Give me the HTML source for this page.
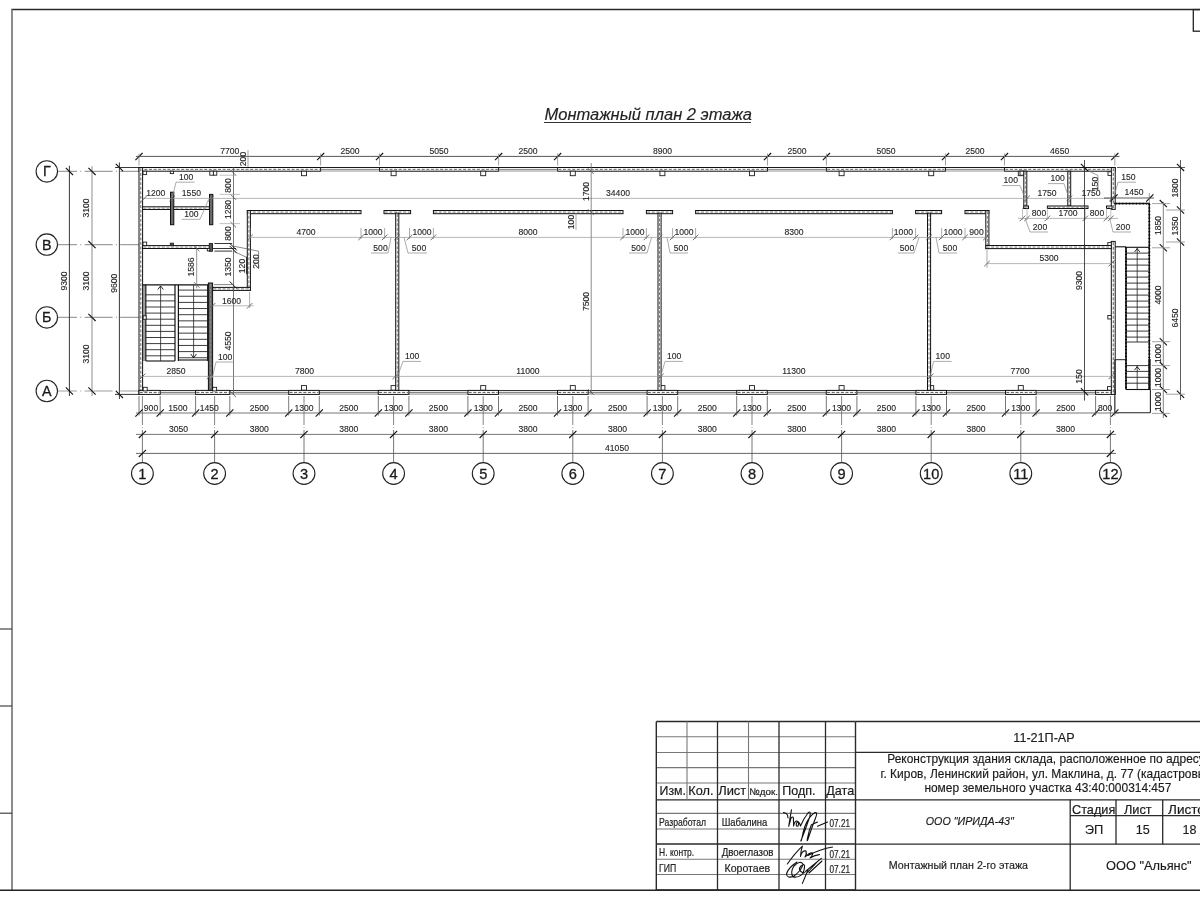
<!DOCTYPE html>
<html><head><meta charset="utf-8"><style>
html,body{margin:0;padding:0;background:#fff;width:1200px;height:900px;overflow:hidden}
svg{display:block;font-family:"Liberation Sans",sans-serif;will-change:transform}
</style></head><body>
<svg width="1200" height="900" viewBox="0 0 1200 900">
<defs>
<pattern id="hatch" width="6" height="4" patternUnits="userSpaceOnUse"><rect width="6" height="4" fill="#fff"/><rect x="0.5" y="1.4" width="3.6" height="1.2" fill="#b8b8b8"/></pattern>
<pattern id="hatchv" width="4" height="6" patternUnits="userSpaceOnUse"><rect width="4" height="6" fill="#fff"/><rect x="1.4" y="0.5" width="1.2" height="3.6" fill="#b8b8b8"/></pattern>
</defs>
<rect width="1200" height="900" fill="#fff"/>
<line x1="11.3" y1="9.6" x2="1201" y2="9.6" stroke="#2a2a2a" stroke-width="1.5" />
<line x1="12" y1="9" x2="12" y2="890" stroke="#666" stroke-width="1.5" />
<line x1="0" y1="890.2" x2="1201" y2="890.2" stroke="#222" stroke-width="1.4" />
<line x1="0" y1="629" x2="12" y2="629" stroke="#333" stroke-width="1.1" />
<line x1="0" y1="706" x2="12" y2="706" stroke="#333" stroke-width="1.1" />
<line x1="0" y1="813.2" x2="12" y2="813.2" stroke="#333" stroke-width="1.1" />
<rect x="1193.3" y="9.6" width="10" height="21.6" stroke="#222" stroke-width="1.3" fill="none" />
<text x="544.5" y="120" font-size="16.5" fill="#222" stroke="#222" stroke-width="0.15" text-anchor="start" font-style="italic">Монтажный план 2 этажа</text>
<line x1="544" y1="122.5" x2="751" y2="122.5" stroke="#333" stroke-width="1" />
<line x1="57.5" y1="171.4" x2="139" y2="171.4" stroke="#a0a0a0" stroke-width="1.1" stroke-dasharray="19.5 3.3 1 3.3 28 3.3 1 3.3 40"/>
<line x1="57.5" y1="244.6" x2="139" y2="244.6" stroke="#a0a0a0" stroke-width="1.1" stroke-dasharray="19.5 3.3 1 3.3 28 3.3 1 3.3 40"/>
<line x1="57.5" y1="317.4" x2="139" y2="317.4" stroke="#a0a0a0" stroke-width="1.1" stroke-dasharray="19.5 3.3 1 3.3 28 3.3 1 3.3 40"/>
<line x1="57.5" y1="391" x2="139" y2="391" stroke="#a0a0a0" stroke-width="1.1" stroke-dasharray="19.5 3.3 1 3.3 28 3.3 1 3.3 40"/>
<line x1="142.4" y1="396" x2="142.4" y2="425" stroke="#777" stroke-width="0.9" />
<line x1="142.4" y1="427" x2="142.4" y2="428.2" stroke="#999" stroke-width="0.9" />
<line x1="142.4" y1="430" x2="142.4" y2="462.6" stroke="#666" stroke-width="0.9" />
<line x1="214.6" y1="396" x2="214.6" y2="425" stroke="#777" stroke-width="0.9" />
<line x1="214.6" y1="427" x2="214.6" y2="428.2" stroke="#999" stroke-width="0.9" />
<line x1="214.6" y1="430" x2="214.6" y2="462.6" stroke="#666" stroke-width="0.9" />
<line x1="304" y1="396" x2="304" y2="425" stroke="#777" stroke-width="0.9" />
<line x1="304" y1="427" x2="304" y2="428.2" stroke="#999" stroke-width="0.9" />
<line x1="304" y1="430" x2="304" y2="462.6" stroke="#666" stroke-width="0.9" />
<line x1="393.6" y1="396" x2="393.6" y2="425" stroke="#777" stroke-width="0.9" />
<line x1="393.6" y1="427" x2="393.6" y2="428.2" stroke="#999" stroke-width="0.9" />
<line x1="393.6" y1="430" x2="393.6" y2="462.6" stroke="#666" stroke-width="0.9" />
<line x1="483.2" y1="396" x2="483.2" y2="425" stroke="#777" stroke-width="0.9" />
<line x1="483.2" y1="427" x2="483.2" y2="428.2" stroke="#999" stroke-width="0.9" />
<line x1="483.2" y1="430" x2="483.2" y2="462.6" stroke="#666" stroke-width="0.9" />
<line x1="572.8" y1="396" x2="572.8" y2="425" stroke="#777" stroke-width="0.9" />
<line x1="572.8" y1="427" x2="572.8" y2="428.2" stroke="#999" stroke-width="0.9" />
<line x1="572.8" y1="430" x2="572.8" y2="462.6" stroke="#666" stroke-width="0.9" />
<line x1="662.4" y1="396" x2="662.4" y2="425" stroke="#777" stroke-width="0.9" />
<line x1="662.4" y1="427" x2="662.4" y2="428.2" stroke="#999" stroke-width="0.9" />
<line x1="662.4" y1="430" x2="662.4" y2="462.6" stroke="#666" stroke-width="0.9" />
<line x1="752" y1="396" x2="752" y2="425" stroke="#777" stroke-width="0.9" />
<line x1="752" y1="427" x2="752" y2="428.2" stroke="#999" stroke-width="0.9" />
<line x1="752" y1="430" x2="752" y2="462.6" stroke="#666" stroke-width="0.9" />
<line x1="841.6" y1="396" x2="841.6" y2="425" stroke="#777" stroke-width="0.9" />
<line x1="841.6" y1="427" x2="841.6" y2="428.2" stroke="#999" stroke-width="0.9" />
<line x1="841.6" y1="430" x2="841.6" y2="462.6" stroke="#666" stroke-width="0.9" />
<line x1="931.2" y1="396" x2="931.2" y2="425" stroke="#777" stroke-width="0.9" />
<line x1="931.2" y1="427" x2="931.2" y2="428.2" stroke="#999" stroke-width="0.9" />
<line x1="931.2" y1="430" x2="931.2" y2="462.6" stroke="#666" stroke-width="0.9" />
<line x1="1020.8" y1="396" x2="1020.8" y2="425" stroke="#777" stroke-width="0.9" />
<line x1="1020.8" y1="427" x2="1020.8" y2="428.2" stroke="#999" stroke-width="0.9" />
<line x1="1020.8" y1="430" x2="1020.8" y2="462.6" stroke="#666" stroke-width="0.9" />
<line x1="1110.4" y1="396" x2="1110.4" y2="425" stroke="#777" stroke-width="0.9" />
<line x1="1110.4" y1="427" x2="1110.4" y2="428.2" stroke="#999" stroke-width="0.9" />
<line x1="1110.4" y1="430" x2="1110.4" y2="462.6" stroke="#666" stroke-width="0.9" />
<line x1="69.4" y1="165.8" x2="69.4" y2="396" stroke="#222" stroke-width="0.9" />
<line x1="65.8" y1="167.8" x2="73" y2="175" stroke="#111" stroke-width="1.1" />
<line x1="65.8" y1="387.4" x2="73" y2="394.6" stroke="#111" stroke-width="1.1" />
<text x="0" y="0" transform="translate(66.9,281) rotate(-90)" font-size="8.6" fill="#262626" stroke="#262626" stroke-width="0.12" text-anchor="middle" >9300</text>
<line x1="92" y1="166.2" x2="92" y2="396" stroke="#a0a0a0" stroke-width="1.2" />
<line x1="88.4" y1="167.8" x2="95.6" y2="175" stroke="#111" stroke-width="1.1" />
<line x1="88.4" y1="241" x2="95.6" y2="248.2" stroke="#111" stroke-width="1.1" />
<line x1="88.4" y1="313.8" x2="95.6" y2="321" stroke="#111" stroke-width="1.1" />
<line x1="88.4" y1="387.4" x2="95.6" y2="394.6" stroke="#111" stroke-width="1.1" />
<text x="0" y="0" transform="translate(89.4,208) rotate(-90)" font-size="8.6" fill="#262626" stroke="#262626" stroke-width="0.12" text-anchor="middle" >3100</text>
<text x="0" y="0" transform="translate(89.4,281) rotate(-90)" font-size="8.6" fill="#262626" stroke="#262626" stroke-width="0.12" text-anchor="middle" >3100</text>
<text x="0" y="0" transform="translate(89.4,354) rotate(-90)" font-size="8.6" fill="#262626" stroke="#262626" stroke-width="0.12" text-anchor="middle" >3100</text>
<line x1="119.4" y1="162.5" x2="119.4" y2="399" stroke="#222" stroke-width="0.9" />
<line x1="115.8" y1="163.9" x2="123" y2="171.1" stroke="#111" stroke-width="1.1" />
<line x1="115.8" y1="390.8" x2="123" y2="398" stroke="#111" stroke-width="1.1" />
<text x="0" y="0" transform="translate(116.9,283.2) rotate(-90)" font-size="8.6" fill="#262626" stroke="#262626" stroke-width="0.12" text-anchor="middle" >9600</text>
<line x1="115" y1="167.5" x2="139" y2="167.5" stroke="#222" stroke-width="0.9" />
<line x1="115" y1="394.4" x2="139" y2="394.4" stroke="#222" stroke-width="0.9" />
<circle cx="46.8" cy="171.4" r="10.7" stroke="#222" stroke-width="1.1" fill="#fff"/>
<text x="46.8" y="176.3" font-size="14.3" fill="#1a1a1a" stroke="#1a1a1a" stroke-width="0.3" text-anchor="middle" >Г</text>
<circle cx="46.8" cy="244.6" r="10.7" stroke="#222" stroke-width="1.1" fill="#fff"/>
<text x="46.8" y="249.5" font-size="14.3" fill="#1a1a1a" stroke="#1a1a1a" stroke-width="0.3" text-anchor="middle" >В</text>
<circle cx="46.8" cy="317.4" r="10.7" stroke="#222" stroke-width="1.1" fill="#fff"/>
<text x="46.8" y="322.3" font-size="14.3" fill="#1a1a1a" stroke="#1a1a1a" stroke-width="0.3" text-anchor="middle" >Б</text>
<circle cx="46.8" cy="391" r="10.7" stroke="#222" stroke-width="1.1" fill="#fff"/>
<text x="46.8" y="395.9" font-size="14.3" fill="#1a1a1a" stroke="#1a1a1a" stroke-width="0.3" text-anchor="middle" >А</text>
<line x1="136" y1="156.4" x2="1119.5" y2="156.4" stroke="#444" stroke-width="0.9" />
<line x1="135.4" y1="160.2" x2="142.6" y2="153" stroke="#111" stroke-width="1.1" />
<line x1="139" y1="153.5" x2="139" y2="165.5" stroke="#888" stroke-width="0.8" />
<line x1="317" y1="160.2" x2="324.2" y2="153" stroke="#111" stroke-width="1.1" />
<line x1="320.6" y1="153.5" x2="320.6" y2="165.5" stroke="#888" stroke-width="0.8" />
<line x1="375.9" y1="160.2" x2="383.1" y2="153" stroke="#111" stroke-width="1.1" />
<line x1="379.5" y1="153.5" x2="379.5" y2="165.5" stroke="#888" stroke-width="0.8" />
<line x1="495" y1="160.2" x2="502.2" y2="153" stroke="#111" stroke-width="1.1" />
<line x1="498.6" y1="153.5" x2="498.6" y2="165.5" stroke="#888" stroke-width="0.8" />
<line x1="554" y1="160.2" x2="561.2" y2="153" stroke="#111" stroke-width="1.1" />
<line x1="557.6" y1="153.5" x2="557.6" y2="165.5" stroke="#888" stroke-width="0.8" />
<line x1="763.9" y1="160.2" x2="771.1" y2="153" stroke="#111" stroke-width="1.1" />
<line x1="767.5" y1="153.5" x2="767.5" y2="165.5" stroke="#888" stroke-width="0.8" />
<line x1="822.8" y1="160.2" x2="830" y2="153" stroke="#111" stroke-width="1.1" />
<line x1="826.4" y1="153.5" x2="826.4" y2="165.5" stroke="#888" stroke-width="0.8" />
<line x1="941.9" y1="160.2" x2="949.1" y2="153" stroke="#111" stroke-width="1.1" />
<line x1="945.5" y1="153.5" x2="945.5" y2="165.5" stroke="#888" stroke-width="0.8" />
<line x1="1000.9" y1="160.2" x2="1008.1" y2="153" stroke="#111" stroke-width="1.1" />
<line x1="1004.5" y1="153.5" x2="1004.5" y2="165.5" stroke="#888" stroke-width="0.8" />
<line x1="1111.2" y1="160.2" x2="1118.4" y2="153" stroke="#111" stroke-width="1.1" />
<line x1="1114.8" y1="153.5" x2="1114.8" y2="165.5" stroke="#888" stroke-width="0.8" />
<text x="229.8" y="154.4" font-size="8.6" fill="#262626" stroke="#262626" stroke-width="0.12" text-anchor="middle" >7700</text>
<text x="350.05" y="154.4" font-size="8.6" fill="#262626" stroke="#262626" stroke-width="0.12" text-anchor="middle" >2500</text>
<text x="439.05" y="154.4" font-size="8.6" fill="#262626" stroke="#262626" stroke-width="0.12" text-anchor="middle" >5050</text>
<text x="528.1" y="154.4" font-size="8.6" fill="#262626" stroke="#262626" stroke-width="0.12" text-anchor="middle" >2500</text>
<text x="662.55" y="154.4" font-size="8.6" fill="#262626" stroke="#262626" stroke-width="0.12" text-anchor="middle" >8900</text>
<text x="796.95" y="154.4" font-size="8.6" fill="#262626" stroke="#262626" stroke-width="0.12" text-anchor="middle" >2500</text>
<text x="885.95" y="154.4" font-size="8.6" fill="#262626" stroke="#262626" stroke-width="0.12" text-anchor="middle" >5050</text>
<text x="975" y="154.4" font-size="8.6" fill="#262626" stroke="#262626" stroke-width="0.12" text-anchor="middle" >2500</text>
<text x="1059.65" y="154.4" font-size="8.6" fill="#262626" stroke="#262626" stroke-width="0.12" text-anchor="middle" >4650</text>
<text x="0" y="0" transform="translate(246,159) rotate(-90)" font-size="8.6" fill="#262626" stroke="#262626" stroke-width="0.12" text-anchor="middle" >200</text>
<line x1="248" y1="150" x2="248" y2="171" stroke="#8a8a8a" stroke-width="0.8" />
<rect x="139" y="167.5" width="181.6" height="3.7" stroke="#111" stroke-width="1" fill="#fff" />
<line x1="139.8" y1="169.35" x2="319.8" y2="169.35" stroke="#555" stroke-width="0.92" stroke-dasharray="3 1.6"/>
<rect x="379.5" y="167.5" width="119.1" height="3.7" stroke="#111" stroke-width="1" fill="#fff" />
<line x1="380.3" y1="169.35" x2="497.8" y2="169.35" stroke="#555" stroke-width="0.92" stroke-dasharray="3 1.6"/>
<rect x="557.6" y="167.5" width="209.9" height="3.7" stroke="#111" stroke-width="1" fill="#fff" />
<line x1="558.4" y1="169.35" x2="766.7" y2="169.35" stroke="#555" stroke-width="0.92" stroke-dasharray="3 1.6"/>
<rect x="826.4" y="167.5" width="119.1" height="3.7" stroke="#111" stroke-width="1" fill="#fff" />
<line x1="827.2" y1="169.35" x2="944.7" y2="169.35" stroke="#555" stroke-width="0.92" stroke-dasharray="3 1.6"/>
<rect x="1004.5" y="167.5" width="110.7" height="3.7" stroke="#111" stroke-width="1" fill="#fff" />
<line x1="1005.3" y1="169.35" x2="1114.4" y2="169.35" stroke="#555" stroke-width="0.92" stroke-dasharray="3 1.6"/>
<line x1="320.6" y1="167.5" x2="379.5" y2="167.5" stroke="#1a1a1a" stroke-width="1" />
<line x1="320.6" y1="169.4" x2="379.5" y2="169.4" stroke="#666" stroke-width="0.8" />
<line x1="320.6" y1="171" x2="379.5" y2="171" stroke="#888" stroke-width="0.9" />
<line x1="498.6" y1="167.5" x2="557.6" y2="167.5" stroke="#1a1a1a" stroke-width="1" />
<line x1="498.6" y1="169.4" x2="557.6" y2="169.4" stroke="#666" stroke-width="0.8" />
<line x1="498.6" y1="171" x2="557.6" y2="171" stroke="#888" stroke-width="0.9" />
<line x1="767.5" y1="167.5" x2="826.4" y2="167.5" stroke="#1a1a1a" stroke-width="1" />
<line x1="767.5" y1="169.4" x2="826.4" y2="169.4" stroke="#666" stroke-width="0.8" />
<line x1="767.5" y1="171" x2="826.4" y2="171" stroke="#888" stroke-width="0.9" />
<line x1="945.5" y1="167.5" x2="1004.5" y2="167.5" stroke="#1a1a1a" stroke-width="1" />
<line x1="945.5" y1="169.4" x2="1004.5" y2="169.4" stroke="#666" stroke-width="0.8" />
<line x1="945.5" y1="171" x2="1004.5" y2="171" stroke="#888" stroke-width="0.9" />
<rect x="139" y="167.5" width="3.6" height="226.9" stroke="#111" stroke-width="1" fill="#fff" />
<line x1="140.8" y1="168.3" x2="140.8" y2="393.6" stroke="#555" stroke-width="0.9" stroke-dasharray="3 1.6"/>
<line x1="160.2" y1="390.6" x2="195.6" y2="390.6" stroke="#1e1e1e" stroke-width="1" />
<line x1="160.2" y1="392.7" x2="195.6" y2="392.7" stroke="#444" stroke-width="0.8" />
<line x1="160.2" y1="394.2" x2="195.6" y2="394.2" stroke="#888" stroke-width="0.8" />
<line x1="229.8" y1="390.6" x2="288.7" y2="390.6" stroke="#1e1e1e" stroke-width="1" />
<line x1="229.8" y1="392.7" x2="288.7" y2="392.7" stroke="#444" stroke-width="0.8" />
<line x1="229.8" y1="394.2" x2="288.7" y2="394.2" stroke="#888" stroke-width="0.8" />
<line x1="319.3" y1="390.6" x2="378.3" y2="390.6" stroke="#1e1e1e" stroke-width="1" />
<line x1="319.3" y1="392.7" x2="378.3" y2="392.7" stroke="#444" stroke-width="0.8" />
<line x1="319.3" y1="394.2" x2="378.3" y2="394.2" stroke="#888" stroke-width="0.8" />
<line x1="408.9" y1="390.6" x2="467.9" y2="390.6" stroke="#1e1e1e" stroke-width="1" />
<line x1="408.9" y1="392.7" x2="467.9" y2="392.7" stroke="#444" stroke-width="0.8" />
<line x1="408.9" y1="394.2" x2="467.9" y2="394.2" stroke="#888" stroke-width="0.8" />
<line x1="498.5" y1="390.6" x2="557.5" y2="390.6" stroke="#1e1e1e" stroke-width="1" />
<line x1="498.5" y1="392.7" x2="557.5" y2="392.7" stroke="#444" stroke-width="0.8" />
<line x1="498.5" y1="394.2" x2="557.5" y2="394.2" stroke="#888" stroke-width="0.8" />
<line x1="588.1" y1="390.6" x2="647.1" y2="390.6" stroke="#1e1e1e" stroke-width="1" />
<line x1="588.1" y1="392.7" x2="647.1" y2="392.7" stroke="#444" stroke-width="0.8" />
<line x1="588.1" y1="394.2" x2="647.1" y2="394.2" stroke="#888" stroke-width="0.8" />
<line x1="677.7" y1="390.6" x2="736.7" y2="390.6" stroke="#1e1e1e" stroke-width="1" />
<line x1="677.7" y1="392.7" x2="736.7" y2="392.7" stroke="#444" stroke-width="0.8" />
<line x1="677.7" y1="394.2" x2="736.7" y2="394.2" stroke="#888" stroke-width="0.8" />
<line x1="767.3" y1="390.6" x2="826.3" y2="390.6" stroke="#1e1e1e" stroke-width="1" />
<line x1="767.3" y1="392.7" x2="826.3" y2="392.7" stroke="#444" stroke-width="0.8" />
<line x1="767.3" y1="394.2" x2="826.3" y2="394.2" stroke="#888" stroke-width="0.8" />
<line x1="856.9" y1="390.6" x2="915.9" y2="390.6" stroke="#1e1e1e" stroke-width="1" />
<line x1="856.9" y1="392.7" x2="915.9" y2="392.7" stroke="#444" stroke-width="0.8" />
<line x1="856.9" y1="394.2" x2="915.9" y2="394.2" stroke="#888" stroke-width="0.8" />
<line x1="946.5" y1="390.6" x2="1005.5" y2="390.6" stroke="#1e1e1e" stroke-width="1" />
<line x1="946.5" y1="392.7" x2="1005.5" y2="392.7" stroke="#444" stroke-width="0.8" />
<line x1="946.5" y1="394.2" x2="1005.5" y2="394.2" stroke="#888" stroke-width="0.8" />
<line x1="1036.1" y1="390.6" x2="1095.6" y2="390.6" stroke="#1e1e1e" stroke-width="1" />
<line x1="1036.1" y1="392.7" x2="1095.6" y2="392.7" stroke="#444" stroke-width="0.8" />
<line x1="1036.1" y1="394.2" x2="1095.6" y2="394.2" stroke="#888" stroke-width="0.8" />
<rect x="139" y="390.4" width="21.2" height="4" stroke="#111" stroke-width="1" fill="#fff" />
<line x1="139.8" y1="392.4" x2="159.4" y2="392.4" stroke="#555" stroke-width="1" stroke-dasharray="3 1.6"/>
<rect x="195.6" y="390.4" width="34.2" height="4" stroke="#111" stroke-width="1" fill="#fff" />
<line x1="196.4" y1="392.4" x2="229" y2="392.4" stroke="#555" stroke-width="1" stroke-dasharray="3 1.6"/>
<rect x="288.7" y="390.4" width="30.6" height="4" stroke="#111" stroke-width="1" fill="#fff" />
<line x1="289.5" y1="392.4" x2="318.5" y2="392.4" stroke="#555" stroke-width="1" stroke-dasharray="3 1.6"/>
<rect x="378.3" y="390.4" width="30.6" height="4" stroke="#111" stroke-width="1" fill="#fff" />
<line x1="379.1" y1="392.4" x2="408.1" y2="392.4" stroke="#555" stroke-width="1" stroke-dasharray="3 1.6"/>
<rect x="467.9" y="390.4" width="30.6" height="4" stroke="#111" stroke-width="1" fill="#fff" />
<line x1="468.7" y1="392.4" x2="497.7" y2="392.4" stroke="#555" stroke-width="1" stroke-dasharray="3 1.6"/>
<rect x="557.5" y="390.4" width="30.6" height="4" stroke="#111" stroke-width="1" fill="#fff" />
<line x1="558.3" y1="392.4" x2="587.3" y2="392.4" stroke="#555" stroke-width="1" stroke-dasharray="3 1.6"/>
<rect x="647.1" y="390.4" width="30.6" height="4" stroke="#111" stroke-width="1" fill="#fff" />
<line x1="647.9" y1="392.4" x2="676.9" y2="392.4" stroke="#555" stroke-width="1" stroke-dasharray="3 1.6"/>
<rect x="736.7" y="390.4" width="30.6" height="4" stroke="#111" stroke-width="1" fill="#fff" />
<line x1="737.5" y1="392.4" x2="766.5" y2="392.4" stroke="#555" stroke-width="1" stroke-dasharray="3 1.6"/>
<rect x="826.3" y="390.4" width="30.6" height="4" stroke="#111" stroke-width="1" fill="#fff" />
<line x1="827.1" y1="392.4" x2="856.1" y2="392.4" stroke="#555" stroke-width="1" stroke-dasharray="3 1.6"/>
<rect x="915.9" y="390.4" width="30.6" height="4" stroke="#111" stroke-width="1" fill="#fff" />
<line x1="916.7" y1="392.4" x2="945.7" y2="392.4" stroke="#555" stroke-width="1" stroke-dasharray="3 1.6"/>
<rect x="1005.5" y="390.4" width="30.6" height="4" stroke="#111" stroke-width="1" fill="#fff" />
<line x1="1006.3" y1="392.4" x2="1035.3" y2="392.4" stroke="#555" stroke-width="1" stroke-dasharray="3 1.6"/>
<rect x="1095.6" y="390.4" width="19.6" height="4" stroke="#111" stroke-width="1" fill="#fff" />
<line x1="1096.4" y1="392.4" x2="1114.4" y2="392.4" stroke="#555" stroke-width="1" stroke-dasharray="3 1.6"/>
<rect x="1111.3" y="167.5" width="3.9" height="41.9" stroke="#111" stroke-width="1" fill="#fff" />
<line x1="1113.25" y1="168.3" x2="1113.25" y2="208.6" stroke="#555" stroke-width="0.98" stroke-dasharray="3 1.6"/>
<rect x="1111.3" y="241.4" width="3.9" height="153" stroke="#111" stroke-width="1" fill="#fff" />
<line x1="1113.25" y1="242.2" x2="1113.25" y2="393.6" stroke="#555" stroke-width="0.98" stroke-dasharray="3 1.6"/>
<rect x="301.5" y="171.2" width="5" height="4.5" stroke="#1e1e1e" stroke-width="0.9" fill="#fff" />
<rect x="391.1" y="171.2" width="5" height="4.5" stroke="#1e1e1e" stroke-width="0.9" fill="#fff" />
<rect x="480.7" y="171.2" width="5" height="4.5" stroke="#1e1e1e" stroke-width="0.9" fill="#fff" />
<rect x="570.3" y="171.2" width="5" height="4.5" stroke="#1e1e1e" stroke-width="0.9" fill="#fff" />
<rect x="659.9" y="171.2" width="5" height="4.5" stroke="#1e1e1e" stroke-width="0.9" fill="#fff" />
<rect x="749.5" y="171.2" width="5" height="4.5" stroke="#1e1e1e" stroke-width="0.9" fill="#fff" />
<rect x="839.1" y="171.2" width="5" height="4.5" stroke="#1e1e1e" stroke-width="0.9" fill="#fff" />
<rect x="928.7" y="171.2" width="5" height="4.5" stroke="#1e1e1e" stroke-width="0.9" fill="#fff" />
<rect x="1018.3" y="171.2" width="5" height="4.5" stroke="#1e1e1e" stroke-width="0.9" fill="#fff" />
<rect x="301.5" y="385.6" width="5" height="4.5" stroke="#1e1e1e" stroke-width="0.9" fill="#fff" />
<rect x="391.1" y="385.6" width="5" height="4.5" stroke="#1e1e1e" stroke-width="0.9" fill="#fff" />
<rect x="480.7" y="385.6" width="5" height="4.5" stroke="#1e1e1e" stroke-width="0.9" fill="#fff" />
<rect x="570.3" y="385.6" width="5" height="4.5" stroke="#1e1e1e" stroke-width="0.9" fill="#fff" />
<rect x="659.9" y="385.6" width="5" height="4.5" stroke="#1e1e1e" stroke-width="0.9" fill="#fff" />
<rect x="749.5" y="385.6" width="5" height="4.5" stroke="#1e1e1e" stroke-width="0.9" fill="#fff" />
<rect x="839.1" y="385.6" width="5" height="4.5" stroke="#1e1e1e" stroke-width="0.9" fill="#fff" />
<rect x="928.7" y="385.6" width="5" height="4.5" stroke="#1e1e1e" stroke-width="0.9" fill="#fff" />
<rect x="1018.3" y="385.6" width="5" height="4.5" stroke="#1e1e1e" stroke-width="0.9" fill="#fff" />
<rect x="143.2" y="387.3" width="4" height="3.6" stroke="#1e1e1e" stroke-width="0.9" fill="#fff" />
<rect x="212.6" y="387.3" width="4" height="3.6" stroke="#1e1e1e" stroke-width="0.9" fill="#fff" />
<rect x="1107.5" y="386.6" width="3.8" height="3.6" stroke="#1e1e1e" stroke-width="0.9" fill="#fff" />
<rect x="143" y="171.2" width="3.6" height="3.4" stroke="#1e1e1e" stroke-width="0.9" fill="#fff" />
<rect x="170.3" y="171.2" width="3.2" height="2.4" stroke="#1e1e1e" stroke-width="0.9" fill="#fff" />
<rect x="209.8" y="171.2" width="3.6" height="4" stroke="#1e1e1e" stroke-width="0.9" fill="#fff" />
<rect x="213.4" y="171.2" width="3.4" height="4" stroke="#1e1e1e" stroke-width="0.9" fill="#fff" />
<rect x="1020" y="171.2" width="4" height="4" stroke="#1e1e1e" stroke-width="0.9" fill="#fff" />
<rect x="1108" y="171.8" width="3.6" height="3.6" stroke="#1e1e1e" stroke-width="0.9" fill="#fff" />
<rect x="1107.8" y="242.6" width="3.5" height="3.4" stroke="#1e1e1e" stroke-width="0.9" fill="#fff" />
<rect x="1107.8" y="315.5" width="3.5" height="3.5" stroke="#1e1e1e" stroke-width="0.9" fill="#fff" />
<rect x="247.4" y="210.5" width="113.6" height="3.2" stroke="#111" stroke-width="1" fill="#fff" />
<line x1="248.2" y1="212.1" x2="360.2" y2="212.1" stroke="#555" stroke-width="0.8" stroke-dasharray="3 1.6"/>
<rect x="384" y="210.5" width="26.6" height="3.2" stroke="#111" stroke-width="1" fill="#fff" />
<line x1="384.8" y1="212.1" x2="409.8" y2="212.1" stroke="#555" stroke-width="0.8" stroke-dasharray="3 1.6"/>
<rect x="433.4" y="210.5" width="189.6" height="3.2" stroke="#111" stroke-width="1" fill="#fff" />
<line x1="434.2" y1="212.1" x2="622.2" y2="212.1" stroke="#555" stroke-width="0.8" stroke-dasharray="3 1.6"/>
<rect x="646.4" y="210.5" width="26.2" height="3.2" stroke="#111" stroke-width="1" fill="#fff" />
<line x1="647.2" y1="212.1" x2="671.8" y2="212.1" stroke="#555" stroke-width="0.8" stroke-dasharray="3 1.6"/>
<rect x="695.6" y="210.5" width="196.8" height="3.2" stroke="#111" stroke-width="1" fill="#fff" />
<line x1="696.4" y1="212.1" x2="891.6" y2="212.1" stroke="#555" stroke-width="0.8" stroke-dasharray="3 1.6"/>
<rect x="915.6" y="210.5" width="26" height="3.2" stroke="#111" stroke-width="1" fill="#fff" />
<line x1="916.4" y1="212.1" x2="940.8" y2="212.1" stroke="#555" stroke-width="0.8" stroke-dasharray="3 1.6"/>
<rect x="965" y="210.5" width="23.8" height="3.2" stroke="#111" stroke-width="1" fill="#fff" />
<line x1="965.8" y1="212.1" x2="988" y2="212.1" stroke="#555" stroke-width="0.8" stroke-dasharray="3 1.6"/>
<rect x="395.7" y="213.2" width="3.1" height="177.2" stroke="#111" stroke-width="1" fill="#fff" />
<line x1="397.25" y1="214" x2="397.25" y2="389.6" stroke="#555" stroke-width="0.78" stroke-dasharray="3 1.6"/>
<rect x="658" y="213.2" width="3.1" height="177.2" stroke="#111" stroke-width="1" fill="#fff" />
<line x1="659.55" y1="214" x2="659.55" y2="389.6" stroke="#555" stroke-width="0.78" stroke-dasharray="3 1.6"/>
<rect x="927.5" y="213.2" width="3.1" height="177.2" stroke="#111" stroke-width="1" fill="#fff" />
<line x1="929.05" y1="214" x2="929.05" y2="389.6" stroke="#555" stroke-width="0.78" stroke-dasharray="3 1.6"/>
<rect x="985.8" y="210.5" width="3.1" height="38.1" stroke="#111" stroke-width="1" fill="#fff" />
<line x1="987.35" y1="211.3" x2="987.35" y2="247.8" stroke="#555" stroke-width="0.78" stroke-dasharray="3 1.6"/>
<rect x="985.8" y="245.5" width="125.5" height="3.1" stroke="#111" stroke-width="1" fill="#fff" />
<line x1="986.6" y1="247.05" x2="1110.5" y2="247.05" stroke="#555" stroke-width="0.77" stroke-dasharray="3 1.6"/>
<rect x="247.3" y="210.5" width="3.1" height="79.9" stroke="#111" stroke-width="1" fill="#fff" />
<line x1="248.85" y1="211.3" x2="248.85" y2="289.6" stroke="#555" stroke-width="0.77" stroke-dasharray="3 1.6"/>
<rect x="212.6" y="287.4" width="37.8" height="3" stroke="#111" stroke-width="1" fill="#fff" />
<line x1="213.4" y1="288.9" x2="249.6" y2="288.9" stroke="#555" stroke-width="0.75" stroke-dasharray="3 1.6"/>
<line x1="246.7" y1="256.8" x2="246.7" y2="274.3" stroke="#222" stroke-width="1.2" />
<rect x="142.6" y="206.8" width="66.9" height="2.7" stroke="#111" stroke-width="1" fill="#fff" />
<line x1="143.4" y1="208.15" x2="208.7" y2="208.15" stroke="#555" stroke-width="0.67" stroke-dasharray="3 1.6"/>
<rect x="170.5" y="192.2" width="3.3" height="32.5" stroke="#111" stroke-width="1" fill="#6a6a6a" />
<rect x="209.5" y="194.4" width="3.3" height="30.3" stroke="#111" stroke-width="1" fill="#6a6a6a" />
<rect x="142.6" y="245.6" width="69.9" height="2.9" stroke="#111" stroke-width="1" fill="#fff" />
<line x1="143.4" y1="247.05" x2="211.7" y2="247.05" stroke="#555" stroke-width="0.73" stroke-dasharray="3 1.6"/>
<rect x="143" y="242.1" width="3.7" height="3.5" stroke="#1e1e1e" stroke-width="0.9" fill="#fff" />
<rect x="170.3" y="243.2" width="3.2" height="2.4" stroke="#222" stroke-width="0.9" fill="#555" />
<rect x="209.3" y="243.5" width="3.2" height="7.8" stroke="#222" stroke-width="0.9" fill="#555" />
<rect x="207.3" y="248.5" width="2.4" height="2.4" stroke="#1e1e1e" stroke-width="0.9" fill="#fff" />
<line x1="214.4" y1="243.5" x2="232.2" y2="243.5" stroke="#222" stroke-width="0.9" />
<line x1="212.5" y1="248.5" x2="236" y2="248.5" stroke="#222" stroke-width="0.9" />
<line x1="214.4" y1="251.1" x2="232.2" y2="251.1" stroke="#222" stroke-width="0.9" />
<rect x="1023.8" y="171.2" width="3" height="37.3" stroke="#111" stroke-width="1" fill="#fff" />
<line x1="1025.3" y1="172" x2="1025.3" y2="207.7" stroke="#555" stroke-width="0.75" stroke-dasharray="3 1.6"/>
<rect x="1067.8" y="171.2" width="2.9" height="34.8" stroke="#111" stroke-width="1" fill="#fff" />
<line x1="1069.25" y1="172" x2="1069.25" y2="205.2" stroke="#555" stroke-width="0.73" stroke-dasharray="3 1.6"/>
<rect x="1023.8" y="206" width="4.7" height="2.5" stroke="#111" stroke-width="1" fill="#fff" />
<line x1="1024.6" y1="207.25" x2="1027.7" y2="207.25" stroke="#555" stroke-width="0.62" stroke-dasharray="3 1.6"/>
<rect x="1047.4" y="206" width="40.6" height="2.5" stroke="#111" stroke-width="1" fill="#fff" />
<line x1="1048.2" y1="207.25" x2="1087.2" y2="207.25" stroke="#555" stroke-width="0.62" stroke-dasharray="3 1.6"/>
<rect x="1106.5" y="206" width="5.5" height="2.5" stroke="#111" stroke-width="1" fill="#fff" />
<line x1="1107.3" y1="207.25" x2="1111.2" y2="207.25" stroke="#555" stroke-width="0.62" stroke-dasharray="3 1.6"/>
<line x1="1114" y1="203.6" x2="1149.3" y2="203.6" stroke="#1a1a1a" stroke-width="1.5" />
<line x1="1149.3" y1="202.9" x2="1149.3" y2="389.5" stroke="#1a1a1a" stroke-width="1.5" />
<line x1="1115.5" y1="203.6" x2="1149.3" y2="203.6" stroke="#000" stroke-width="1.9" stroke-dasharray="1 2.4"/>
<line x1="1149.3" y1="204" x2="1149.3" y2="389.5" stroke="#000" stroke-width="1.9" stroke-dasharray="1 2.4"/>
<line x1="142.6" y1="284.8" x2="212" y2="284.8" stroke="#111" stroke-width="1.3" />
<line x1="144" y1="284.8" x2="144" y2="361" stroke="#111" stroke-width="0.8" />
<line x1="145.8" y1="284.8" x2="145.8" y2="361" stroke="#111" stroke-width="1.2" />
<line x1="175" y1="284.8" x2="175" y2="361" stroke="#111" stroke-width="1.2" />
<line x1="178.4" y1="284.8" x2="178.4" y2="361" stroke="#111" stroke-width="1.2" />
<line x1="207.6" y1="284.8" x2="207.6" y2="361" stroke="#111" stroke-width="1" />
<rect x="208.4" y="283" width="4.2" height="107.4" stroke="#111" stroke-width="1" fill="#6a6a6a" />
<line x1="210.5" y1="284" x2="210.5" y2="389.5" stroke="#aaa" stroke-width="0.5" stroke-dasharray="3 1.6"/>
<line x1="145.8" y1="361" x2="175" y2="361" stroke="#111" stroke-width="1.1" />
<line x1="178.4" y1="360" x2="207.6" y2="360" stroke="#111" stroke-width="1.1" />
<line x1="145.8" y1="294.8" x2="175" y2="294.8" stroke="#1a1a1a" stroke-width="0.85" />
<line x1="145.8" y1="300.9" x2="175" y2="300.9" stroke="#1a1a1a" stroke-width="0.85" />
<line x1="145.8" y1="307" x2="175" y2="307" stroke="#1a1a1a" stroke-width="0.85" />
<line x1="145.8" y1="313.1" x2="175" y2="313.1" stroke="#1a1a1a" stroke-width="0.85" />
<line x1="145.8" y1="319.2" x2="175" y2="319.2" stroke="#1a1a1a" stroke-width="0.85" />
<line x1="145.8" y1="325.3" x2="175" y2="325.3" stroke="#1a1a1a" stroke-width="0.85" />
<line x1="145.8" y1="331.4" x2="175" y2="331.4" stroke="#1a1a1a" stroke-width="0.85" />
<line x1="145.8" y1="337.5" x2="175" y2="337.5" stroke="#1a1a1a" stroke-width="0.85" />
<line x1="145.8" y1="343.6" x2="175" y2="343.6" stroke="#1a1a1a" stroke-width="0.85" />
<line x1="145.8" y1="349.7" x2="175" y2="349.7" stroke="#1a1a1a" stroke-width="0.85" />
<line x1="145.8" y1="355.8" x2="175" y2="355.8" stroke="#1a1a1a" stroke-width="0.85" />
<line x1="178.4" y1="290.1" x2="207.6" y2="290.1" stroke="#1a1a1a" stroke-width="0.85" />
<line x1="178.4" y1="296.25" x2="207.6" y2="296.25" stroke="#1a1a1a" stroke-width="0.85" />
<line x1="178.4" y1="302.4" x2="207.6" y2="302.4" stroke="#1a1a1a" stroke-width="0.85" />
<line x1="178.4" y1="308.55" x2="207.6" y2="308.55" stroke="#1a1a1a" stroke-width="0.85" />
<line x1="178.4" y1="314.7" x2="207.6" y2="314.7" stroke="#1a1a1a" stroke-width="0.85" />
<line x1="178.4" y1="320.85" x2="207.6" y2="320.85" stroke="#1a1a1a" stroke-width="0.85" />
<line x1="178.4" y1="327" x2="207.6" y2="327" stroke="#1a1a1a" stroke-width="0.85" />
<line x1="178.4" y1="333.15" x2="207.6" y2="333.15" stroke="#1a1a1a" stroke-width="0.85" />
<line x1="178.4" y1="339.3" x2="207.6" y2="339.3" stroke="#1a1a1a" stroke-width="0.85" />
<line x1="178.4" y1="345.45" x2="207.6" y2="345.45" stroke="#1a1a1a" stroke-width="0.85" />
<line x1="178.4" y1="351.6" x2="207.6" y2="351.6" stroke="#1a1a1a" stroke-width="0.85" />
<line x1="178.4" y1="357.75" x2="207.6" y2="357.75" stroke="#1a1a1a" stroke-width="0.85" />
<line x1="160.6" y1="286" x2="160.6" y2="361" stroke="#222" stroke-width="0.8" />
<line x1="193.6" y1="285" x2="193.6" y2="358" stroke="#222" stroke-width="0.8" />
<polyline points="157.8,289.5 160.6,286 163.4,289.5" stroke="#111" stroke-width="0.9" fill="none"/>
<polyline points="190.8,354 193.6,358 196.4,354" stroke="#111" stroke-width="0.9" fill="none"/>
<rect x="143.2" y="315.8" width="3" height="3.5" stroke="#1e1e1e" stroke-width="0.9" fill="#fff" />
<line x1="1115.2" y1="246.8" x2="1126" y2="246.8" stroke="#111" stroke-width="1.1" />
<line x1="1126" y1="247.3" x2="1149.3" y2="247.3" stroke="#111" stroke-width="1.1" />
<line x1="1126" y1="247.3" x2="1126" y2="389.5" stroke="#111" stroke-width="1.7" />
<line x1="1126" y1="247.3" x2="1126" y2="389.5" stroke="#000" stroke-width="2" stroke-dasharray="1 2.4"/>
<line x1="1126" y1="253.1" x2="1149.3" y2="253.1" stroke="#222" stroke-width="0.9" />
<line x1="1126" y1="259.1" x2="1149.3" y2="259.1" stroke="#222" stroke-width="0.9" />
<line x1="1126" y1="265.1" x2="1149.3" y2="265.1" stroke="#222" stroke-width="0.9" />
<line x1="1126" y1="271.1" x2="1149.3" y2="271.1" stroke="#222" stroke-width="0.9" />
<line x1="1126" y1="277.1" x2="1149.3" y2="277.1" stroke="#222" stroke-width="0.9" />
<line x1="1126" y1="283.1" x2="1149.3" y2="283.1" stroke="#222" stroke-width="0.9" />
<line x1="1126" y1="289.1" x2="1149.3" y2="289.1" stroke="#222" stroke-width="0.9" />
<line x1="1126" y1="295.1" x2="1149.3" y2="295.1" stroke="#222" stroke-width="0.9" />
<line x1="1126" y1="301.1" x2="1149.3" y2="301.1" stroke="#222" stroke-width="0.9" />
<line x1="1126" y1="307.1" x2="1149.3" y2="307.1" stroke="#222" stroke-width="0.9" />
<line x1="1126" y1="313.1" x2="1149.3" y2="313.1" stroke="#222" stroke-width="0.9" />
<line x1="1126" y1="319.1" x2="1149.3" y2="319.1" stroke="#222" stroke-width="0.9" />
<line x1="1126" y1="325.1" x2="1149.3" y2="325.1" stroke="#222" stroke-width="0.9" />
<line x1="1126" y1="331.1" x2="1149.3" y2="331.1" stroke="#222" stroke-width="0.9" />
<line x1="1126" y1="337.1" x2="1149.3" y2="337.1" stroke="#222" stroke-width="0.9" />
<line x1="1126" y1="342" x2="1149.3" y2="342" stroke="#222" stroke-width="0.9" />
<line x1="1126" y1="365.6" x2="1149.3" y2="365.6" stroke="#222" stroke-width="0.9" />
<line x1="1126" y1="371.4" x2="1149.3" y2="371.4" stroke="#222" stroke-width="0.9" />
<line x1="1126" y1="377.3" x2="1149.3" y2="377.3" stroke="#222" stroke-width="0.9" />
<line x1="1126" y1="383.2" x2="1149.3" y2="383.2" stroke="#222" stroke-width="0.9" />
<line x1="1126" y1="389.5" x2="1150.4" y2="389.5" stroke="#111" stroke-width="1.1" />
<line x1="1137.2" y1="247.5" x2="1137.2" y2="342" stroke="#222" stroke-width="0.8" />
<line x1="1137.2" y1="365.6" x2="1137.2" y2="389.5" stroke="#222" stroke-width="0.8" />
<polyline points="1134.6,252 1137.2,248.6 1139.8,252" stroke="#111" stroke-width="0.9" fill="none"/>
<polyline points="1134.6,370 1137.2,366.6 1139.8,370" stroke="#111" stroke-width="0.9" fill="none"/>
<line x1="1149.6" y1="359" x2="1149.6" y2="389.5" stroke="#111" stroke-width="2" />
<line x1="1114.8" y1="359.7" x2="1114.8" y2="412.8" stroke="#222" stroke-width="1" />
<line x1="1114.8" y1="359.7" x2="1126" y2="359.7" stroke="#222" stroke-width="1" />
<line x1="1114.8" y1="412.8" x2="1150.4" y2="412.8" stroke="#222" stroke-width="1.1" />
<line x1="1150.4" y1="389.5" x2="1150.4" y2="412.8" stroke="#222" stroke-width="1.1" />
<line x1="142.6" y1="198.4" x2="1111.3" y2="198.4" stroke="#9a9a9a" stroke-width="0.7" />
<text x="618" y="196" font-size="8.6" fill="#262626" stroke="#262626" stroke-width="0.12" text-anchor="middle" >34400</text>
<text x="155.7" y="195.8" font-size="8.6" fill="#262626" stroke="#262626" stroke-width="0.12" text-anchor="middle" >1200</text>
<text x="191.4" y="195.8" font-size="8.6" fill="#262626" stroke="#262626" stroke-width="0.12" text-anchor="middle" >1550</text>
<line x1="141.4" y1="201.2" x2="147" y2="195.6" stroke="#555" stroke-width="0.85" />
<line x1="169.4" y1="201.2" x2="175" y2="195.6" stroke="#555" stroke-width="0.85" />
<line x1="208.4" y1="201.2" x2="214" y2="195.6" stroke="#555" stroke-width="0.85" />
<text x="1047" y="196" font-size="8.6" fill="#262626" stroke="#262626" stroke-width="0.12" text-anchor="middle" >1750</text>
<text x="1091" y="196" font-size="8.6" fill="#262626" stroke="#262626" stroke-width="0.12" text-anchor="middle" >1750</text>
<line x1="1024.2" y1="201.2" x2="1029.8" y2="195.6" stroke="#555" stroke-width="0.85" />
<line x1="1066.5" y1="201.2" x2="1072.1" y2="195.6" stroke="#555" stroke-width="0.85" />
<line x1="1109.2" y1="201.2" x2="1114.8" y2="195.6" stroke="#555" stroke-width="0.85" />
<line x1="1104" y1="198" x2="1154" y2="198" stroke="#333" stroke-width="0.8" />
<text x="1134" y="195.4" font-size="8.6" fill="#262626" stroke="#262626" stroke-width="0.12" text-anchor="middle" >1450</text>
<line x1="1146.2" y1="201.6" x2="1153.4" y2="194.4" stroke="#111" stroke-width="1.1" />
<line x1="1110.4" y1="201.6" x2="1117.6" y2="194.4" stroke="#111" stroke-width="1.1" />
<line x1="1149.3" y1="193" x2="1149.3" y2="203" stroke="#777" stroke-width="0.7" />
<line x1="591.2" y1="163" x2="591.2" y2="394" stroke="#666" stroke-width="0.75" />
<text x="0" y="0" transform="translate(588.9,191.5) rotate(-90)" font-size="8.6" fill="#262626" stroke="#262626" stroke-width="0.12" text-anchor="middle" >1700</text>
<text x="0" y="0" transform="translate(588.9,301.5) rotate(-90)" font-size="8.6" fill="#262626" stroke="#262626" stroke-width="0.12" text-anchor="middle" >7500</text>
<line x1="588.2" y1="168.4" x2="593.8" y2="174" stroke="#555" stroke-width="0.85" />
<line x1="588.2" y1="209.4" x2="593.8" y2="215" stroke="#555" stroke-width="0.85" />
<line x1="588.2" y1="389.2" x2="593.8" y2="394.8" stroke="#555" stroke-width="0.85" />
<text x="0" y="0" transform="translate(573.9,222) rotate(-90)" font-size="8.6" fill="#262626" stroke="#262626" stroke-width="0.12" text-anchor="middle" >100</text>
<line x1="576" y1="213" x2="576" y2="230" stroke="#888" stroke-width="0.7" />
<line x1="250" y1="237.4" x2="988" y2="237.4" stroke="#9a9a9a" stroke-width="0.7" />
<text x="306" y="235" font-size="8.6" fill="#262626" stroke="#262626" stroke-width="0.12" text-anchor="middle" >4700</text>
<text x="373" y="235" font-size="8.6" fill="#262626" stroke="#262626" stroke-width="0.12" text-anchor="middle" >1000</text>
<text x="422" y="235" font-size="8.6" fill="#262626" stroke="#262626" stroke-width="0.12" text-anchor="middle" >1000</text>
<text x="528" y="235" font-size="8.6" fill="#262626" stroke="#262626" stroke-width="0.12" text-anchor="middle" >8000</text>
<text x="635" y="235" font-size="8.6" fill="#262626" stroke="#262626" stroke-width="0.12" text-anchor="middle" >1000</text>
<text x="684" y="235" font-size="8.6" fill="#262626" stroke="#262626" stroke-width="0.12" text-anchor="middle" >1000</text>
<text x="794" y="235" font-size="8.6" fill="#262626" stroke="#262626" stroke-width="0.12" text-anchor="middle" >8300</text>
<text x="903.4" y="235" font-size="8.6" fill="#262626" stroke="#262626" stroke-width="0.12" text-anchor="middle" >1000</text>
<text x="953" y="235" font-size="8.6" fill="#262626" stroke="#262626" stroke-width="0.12" text-anchor="middle" >1000</text>
<text x="976.5" y="235" font-size="8.6" fill="#262626" stroke="#262626" stroke-width="0.12" text-anchor="middle" >900</text>
<line x1="247.2" y1="240.2" x2="252.8" y2="234.6" stroke="#555" stroke-width="0.85" />
<line x1="250" y1="228" x2="250" y2="239" stroke="#888" stroke-width="0.7" />
<line x1="358.2" y1="240.2" x2="363.8" y2="234.6" stroke="#555" stroke-width="0.85" />
<line x1="361" y1="228" x2="361" y2="239" stroke="#888" stroke-width="0.7" />
<line x1="381.8" y1="240.2" x2="387.4" y2="234.6" stroke="#555" stroke-width="0.85" />
<line x1="384.6" y1="228" x2="384.6" y2="239" stroke="#888" stroke-width="0.7" />
<line x1="406.7" y1="240.2" x2="412.3" y2="234.6" stroke="#555" stroke-width="0.85" />
<line x1="409.5" y1="228" x2="409.5" y2="239" stroke="#888" stroke-width="0.7" />
<line x1="430.6" y1="240.2" x2="436.2" y2="234.6" stroke="#555" stroke-width="0.85" />
<line x1="433.4" y1="228" x2="433.4" y2="239" stroke="#888" stroke-width="0.7" />
<line x1="620.2" y1="240.2" x2="625.8" y2="234.6" stroke="#555" stroke-width="0.85" />
<line x1="623" y1="228" x2="623" y2="239" stroke="#888" stroke-width="0.7" />
<line x1="643.6" y1="240.2" x2="649.2" y2="234.6" stroke="#555" stroke-width="0.85" />
<line x1="646.4" y1="228" x2="646.4" y2="239" stroke="#888" stroke-width="0.7" />
<line x1="669.8" y1="240.2" x2="675.4" y2="234.6" stroke="#555" stroke-width="0.85" />
<line x1="672.6" y1="228" x2="672.6" y2="239" stroke="#888" stroke-width="0.7" />
<line x1="692.8" y1="240.2" x2="698.4" y2="234.6" stroke="#555" stroke-width="0.85" />
<line x1="695.6" y1="228" x2="695.6" y2="239" stroke="#888" stroke-width="0.7" />
<line x1="889.6" y1="240.2" x2="895.2" y2="234.6" stroke="#555" stroke-width="0.85" />
<line x1="892.4" y1="228" x2="892.4" y2="239" stroke="#888" stroke-width="0.7" />
<line x1="912.8" y1="240.2" x2="918.4" y2="234.6" stroke="#555" stroke-width="0.85" />
<line x1="915.6" y1="228" x2="915.6" y2="239" stroke="#888" stroke-width="0.7" />
<line x1="938.8" y1="240.2" x2="944.4" y2="234.6" stroke="#555" stroke-width="0.85" />
<line x1="941.6" y1="228" x2="941.6" y2="239" stroke="#888" stroke-width="0.7" />
<line x1="962.2" y1="240.2" x2="967.8" y2="234.6" stroke="#555" stroke-width="0.85" />
<line x1="965" y1="228" x2="965" y2="239" stroke="#888" stroke-width="0.7" />
<line x1="983.2" y1="240.2" x2="988.8" y2="234.6" stroke="#555" stroke-width="0.85" />
<line x1="986" y1="228" x2="986" y2="239" stroke="#888" stroke-width="0.7" />
<line x1="394.2" y1="240.2" x2="399.8" y2="234.6" stroke="#555" stroke-width="0.85" />
<line x1="656.7" y1="240.2" x2="662.3" y2="234.6" stroke="#555" stroke-width="0.85" />
<line x1="926.2" y1="240.2" x2="931.8" y2="234.6" stroke="#555" stroke-width="0.85" />
<text x="380.5" y="251" font-size="8.6" fill="#262626" stroke="#262626" stroke-width="0.12" text-anchor="middle" >500</text>
<line x1="371" y1="253" x2="388" y2="253" stroke="#888" stroke-width="0.7" />
<line x1="388" y1="253" x2="391" y2="237.4" stroke="#888" stroke-width="0.7" />
<text x="419" y="251" font-size="8.6" fill="#262626" stroke="#262626" stroke-width="0.12" text-anchor="middle" >500</text>
<line x1="408" y1="253" x2="427" y2="253" stroke="#888" stroke-width="0.7" />
<line x1="404" y1="237.4" x2="408" y2="253" stroke="#888" stroke-width="0.7" />
<text x="638.5" y="251" font-size="8.6" fill="#262626" stroke="#262626" stroke-width="0.12" text-anchor="middle" >500</text>
<line x1="629" y1="253" x2="647" y2="253" stroke="#888" stroke-width="0.7" />
<line x1="647" y1="253" x2="651.6" y2="237.4" stroke="#888" stroke-width="0.7" />
<text x="681" y="251" font-size="8.6" fill="#262626" stroke="#262626" stroke-width="0.12" text-anchor="middle" >500</text>
<line x1="670" y1="253" x2="688" y2="253" stroke="#888" stroke-width="0.7" />
<line x1="667" y1="237.4" x2="670" y2="253" stroke="#888" stroke-width="0.7" />
<text x="907" y="251" font-size="8.6" fill="#262626" stroke="#262626" stroke-width="0.12" text-anchor="middle" >500</text>
<line x1="898" y1="253" x2="914" y2="253" stroke="#888" stroke-width="0.7" />
<line x1="914" y1="253" x2="919" y2="237.4" stroke="#888" stroke-width="0.7" />
<text x="950" y="251" font-size="8.6" fill="#262626" stroke="#262626" stroke-width="0.12" text-anchor="middle" >500</text>
<line x1="939" y1="253" x2="957" y2="253" stroke="#888" stroke-width="0.7" />
<line x1="936" y1="237.4" x2="939" y2="253" stroke="#888" stroke-width="0.7" />
<line x1="987" y1="263.6" x2="1111.3" y2="263.6" stroke="#9a9a9a" stroke-width="0.7" />
<text x="1049" y="261" font-size="8.6" fill="#262626" stroke="#262626" stroke-width="0.12" text-anchor="middle" >5300</text>
<line x1="984.2" y1="266.4" x2="989.8" y2="260.8" stroke="#555" stroke-width="0.85" />
<line x1="1108.5" y1="266.4" x2="1114.1" y2="260.8" stroke="#555" stroke-width="0.85" />
<line x1="987" y1="250" x2="987" y2="268" stroke="#888" stroke-width="0.7" />
<line x1="1018" y1="218.4" x2="1118" y2="218.4" stroke="#9a9a9a" stroke-width="0.7" />
<text x="1039" y="215.6" font-size="8.6" fill="#262626" stroke="#262626" stroke-width="0.12" text-anchor="middle" >800</text>
<text x="1068" y="215.6" font-size="8.6" fill="#262626" stroke="#262626" stroke-width="0.12" text-anchor="middle" >1700</text>
<text x="1097" y="215.6" font-size="8.6" fill="#262626" stroke="#262626" stroke-width="0.12" text-anchor="middle" >800</text>
<line x1="1019.7" y1="221.2" x2="1025.3" y2="215.6" stroke="#555" stroke-width="0.85" />
<line x1="1024.2" y1="221.2" x2="1029.8" y2="215.6" stroke="#555" stroke-width="0.85" />
<line x1="1044.6" y1="221.2" x2="1050.2" y2="215.6" stroke="#555" stroke-width="0.85" />
<line x1="1082.5" y1="221.2" x2="1088.1" y2="215.6" stroke="#555" stroke-width="0.85" />
<line x1="1103.7" y1="221.2" x2="1109.3" y2="215.6" stroke="#555" stroke-width="0.85" />
<line x1="1108" y1="221.2" x2="1113.6" y2="215.6" stroke="#555" stroke-width="0.85" />
<line x1="1022.5" y1="208" x2="1022.5" y2="220" stroke="#999" stroke-width="0.6" />
<line x1="1027" y1="208" x2="1027" y2="220" stroke="#999" stroke-width="0.6" />
<line x1="1047.4" y1="208" x2="1047.4" y2="220" stroke="#999" stroke-width="0.6" />
<line x1="1085.3" y1="208" x2="1085.3" y2="220" stroke="#999" stroke-width="0.6" />
<line x1="1106.5" y1="208" x2="1106.5" y2="220" stroke="#999" stroke-width="0.6" />
<line x1="1110.8" y1="208" x2="1110.8" y2="220" stroke="#999" stroke-width="0.6" />
<text x="1040" y="230" font-size="8.6" fill="#262626" stroke="#262626" stroke-width="0.12" text-anchor="middle" >200</text>
<text x="1123" y="230" font-size="8.6" fill="#262626" stroke="#262626" stroke-width="0.12" text-anchor="middle" >200</text>
<line x1="1030" y1="232" x2="1048" y2="232" stroke="#888" stroke-width="0.7" />
<line x1="1025" y1="218" x2="1030" y2="232" stroke="#888" stroke-width="0.7" />
<line x1="1113" y1="232" x2="1131" y2="232" stroke="#888" stroke-width="0.7" />
<line x1="1109.6" y1="218" x2="1113" y2="232" stroke="#888" stroke-width="0.7" />
<line x1="233.5" y1="167" x2="233.5" y2="395" stroke="#555" stroke-width="0.8" />
<line x1="230.4" y1="169.9" x2="236" y2="175.5" stroke="#555" stroke-width="0.85" />
<line x1="230.4" y1="194.2" x2="236" y2="199.8" stroke="#555" stroke-width="0.85" />
<line x1="230.4" y1="221.8" x2="236" y2="227.4" stroke="#555" stroke-width="0.85" />
<line x1="229.6" y1="243.2" x2="236.8" y2="250.4" stroke="#111" stroke-width="1" />
<line x1="229.6" y1="245.9" x2="236.8" y2="253.1" stroke="#111" stroke-width="1" />
<line x1="229.6" y1="281.4" x2="236.8" y2="288.6" stroke="#111" stroke-width="1" />
<line x1="219.5" y1="175.2" x2="236" y2="175.2" stroke="#999" stroke-width="0.6" />
<line x1="219.5" y1="194.4" x2="240" y2="194.4" stroke="#999" stroke-width="0.6" />
<line x1="219.5" y1="223.6" x2="240" y2="223.6" stroke="#999" stroke-width="0.6" />
<text x="0" y="0" transform="translate(230.7,185.5) rotate(-90)" font-size="8.6" fill="#262626" stroke="#262626" stroke-width="0.12" text-anchor="middle" >800</text>
<text x="0" y="0" transform="translate(230.7,209.5) rotate(-90)" font-size="8.6" fill="#262626" stroke="#262626" stroke-width="0.12" text-anchor="middle" >1280</text>
<text x="0" y="0" transform="translate(230.7,233.5) rotate(-90)" font-size="8.6" fill="#262626" stroke="#262626" stroke-width="0.12" text-anchor="middle" >800</text>
<text x="0" y="0" transform="translate(230.7,267) rotate(-90)" font-size="8.6" fill="#262626" stroke="#262626" stroke-width="0.12" text-anchor="middle" >1350</text>
<text x="0" y="0" transform="translate(230.7,341) rotate(-90)" font-size="8.6" fill="#262626" stroke="#262626" stroke-width="0.12" text-anchor="middle" >4550</text>
<line x1="214" y1="284.6" x2="234" y2="284.6" stroke="#666" stroke-width="0.8" />
<line x1="230.4" y1="391.6" x2="236" y2="397.2" stroke="#555" stroke-width="0.85" />
<line x1="196.7" y1="248.4" x2="196.7" y2="288.3" stroke="#777" stroke-width="0.8" />
<line x1="193.9" y1="245.6" x2="199.5" y2="251.2" stroke="#555" stroke-width="0.85" />
<line x1="193.9" y1="282.2" x2="199.5" y2="287.8" stroke="#555" stroke-width="0.85" />
<text x="0" y="0" transform="translate(194.2,267) rotate(-90)" font-size="8.6" fill="#262626" stroke="#262626" stroke-width="0.12" text-anchor="middle" >1586</text>
<text x="0" y="0" transform="translate(244.7,266) rotate(-90)" font-size="8.6" fill="#262626" stroke="#262626" stroke-width="0.12" text-anchor="middle" >120</text>
<text x="0" y="0" transform="translate(258.9,261.5) rotate(-90)" font-size="8.6" fill="#262626" stroke="#262626" stroke-width="0.12" text-anchor="middle" >200</text>
<line x1="233" y1="246" x2="258.6" y2="251.2" stroke="#555" stroke-width="0.7" />
<line x1="258.6" y1="251.2" x2="258.6" y2="269" stroke="#555" stroke-width="0.7" />
<line x1="233" y1="251" x2="246.7" y2="257.4" stroke="#555" stroke-width="0.7" />
<line x1="212" y1="305.8" x2="253.7" y2="305.8" stroke="#9a9a9a" stroke-width="0.7" />
<text x="231.5" y="303.5" font-size="8.6" fill="#262626" stroke="#262626" stroke-width="0.12" text-anchor="middle" >1600</text>
<line x1="209.8" y1="308.6" x2="215.4" y2="303" stroke="#555" stroke-width="0.85" />
<line x1="246.8" y1="308.6" x2="252.4" y2="303" stroke="#555" stroke-width="0.85" />
<line x1="249.6" y1="292" x2="249.6" y2="308" stroke="#888" stroke-width="0.7" />
<text x="178.9" y="179.8" font-size="8.6" fill="#262626" stroke="#262626" stroke-width="0.12" text-anchor="start" >100</text>
<line x1="176" y1="182.2" x2="194.6" y2="182.2" stroke="#888" stroke-width="0.7" />
<line x1="176" y1="182.2" x2="172.4" y2="197" stroke="#888" stroke-width="0.7" />
<text x="184.3" y="216.6" font-size="8.6" fill="#262626" stroke="#262626" stroke-width="0.12" text-anchor="start" >100</text>
<line x1="181.6" y1="219.3" x2="200" y2="219.3" stroke="#888" stroke-width="0.7" />
<line x1="200" y1="219.3" x2="208.7" y2="199.3" stroke="#888" stroke-width="0.7" />
<text x="218" y="360" font-size="8.6" fill="#262626" stroke="#262626" stroke-width="0.12" text-anchor="start" >100</text>
<line x1="216" y1="362" x2="234" y2="362" stroke="#888" stroke-width="0.7" />
<line x1="216" y1="362" x2="212.2" y2="378" stroke="#888" stroke-width="0.7" />
<text x="405" y="359" font-size="8.6" fill="#262626" stroke="#262626" stroke-width="0.12" text-anchor="start" >100</text>
<line x1="403" y1="361.4" x2="421" y2="361.4" stroke="#888" stroke-width="0.7" />
<line x1="403" y1="361.4" x2="396.5" y2="379" stroke="#888" stroke-width="0.7" />
<text x="667" y="359" font-size="8.6" fill="#262626" stroke="#262626" stroke-width="0.12" text-anchor="start" >100</text>
<line x1="665" y1="361.4" x2="683" y2="361.4" stroke="#888" stroke-width="0.7" />
<line x1="665" y1="361.4" x2="660" y2="379" stroke="#888" stroke-width="0.7" />
<text x="935.6" y="359" font-size="8.6" fill="#262626" stroke="#262626" stroke-width="0.12" text-anchor="start" >100</text>
<line x1="933.6" y1="361.4" x2="951.6" y2="361.4" stroke="#888" stroke-width="0.7" />
<line x1="933.6" y1="361.4" x2="929.5" y2="379" stroke="#888" stroke-width="0.7" />
<text x="1003.6" y="183" font-size="8.6" fill="#262626" stroke="#262626" stroke-width="0.12" text-anchor="start" >100</text>
<line x1="1002" y1="185.6" x2="1020" y2="185.6" stroke="#888" stroke-width="0.7" />
<line x1="1020" y1="185.6" x2="1025" y2="198" stroke="#888" stroke-width="0.7" />
<text x="1050.4" y="181" font-size="8.6" fill="#262626" stroke="#262626" stroke-width="0.12" text-anchor="start" >100</text>
<line x1="1048" y1="183.6" x2="1064" y2="183.6" stroke="#888" stroke-width="0.7" />
<line x1="1064" y1="183.6" x2="1069" y2="198" stroke="#888" stroke-width="0.7" />
<text x="1121.3" y="179.7" font-size="8.6" fill="#262626" stroke="#262626" stroke-width="0.12" text-anchor="start" >150</text>
<line x1="1118" y1="182.2" x2="1136" y2="182.2" stroke="#888" stroke-width="0.7" />
<line x1="1118" y1="182.2" x2="1113.5" y2="199" stroke="#888" stroke-width="0.7" />
<text x="0" y="0" transform="translate(1097.9,184) rotate(-90)" font-size="8.6" fill="#262626" stroke="#262626" stroke-width="0.12" text-anchor="middle" >150</text>
<line x1="1083" y1="168" x2="1098" y2="175.5" stroke="#777" stroke-width="0.7" />
<line x1="1098" y1="175.5" x2="1098" y2="191" stroke="#777" stroke-width="0.7" />
<line x1="142.6" y1="376.4" x2="1111.3" y2="376.4" stroke="#9a9a9a" stroke-width="0.7" />
<text x="176" y="374.2" font-size="8.6" fill="#262626" stroke="#262626" stroke-width="0.12" text-anchor="middle" >2850</text>
<text x="304.5" y="374.2" font-size="8.6" fill="#262626" stroke="#262626" stroke-width="0.12" text-anchor="middle" >7800</text>
<text x="528" y="374.2" font-size="8.6" fill="#262626" stroke="#262626" stroke-width="0.12" text-anchor="middle" >11000</text>
<text x="794" y="374.2" font-size="8.6" fill="#262626" stroke="#262626" stroke-width="0.12" text-anchor="middle" >11300</text>
<text x="1020" y="374.2" font-size="8.6" fill="#262626" stroke="#262626" stroke-width="0.12" text-anchor="middle" >7700</text>
<line x1="139.8" y1="379.2" x2="145.4" y2="373.6" stroke="#555" stroke-width="0.85" />
<line x1="206.7" y1="379.2" x2="212.3" y2="373.6" stroke="#555" stroke-width="0.85" />
<line x1="392.4" y1="379.2" x2="398" y2="373.6" stroke="#555" stroke-width="0.85" />
<line x1="658.2" y1="379.2" x2="663.8" y2="373.6" stroke="#555" stroke-width="0.85" />
<line x1="927.8" y1="379.2" x2="933.4" y2="373.6" stroke="#555" stroke-width="0.85" />
<line x1="1108.5" y1="379.2" x2="1114.1" y2="373.6" stroke="#555" stroke-width="0.85" />
<line x1="1084.5" y1="160" x2="1084.5" y2="400.6" stroke="#222" stroke-width="0.8" />
<line x1="1080.9" y1="163.9" x2="1088.1" y2="171.1" stroke="#111" stroke-width="1.1" />
<line x1="1080.9" y1="388.2" x2="1088.1" y2="395.4" stroke="#111" stroke-width="1.1" />
<text x="0" y="0" transform="translate(1082.4,280.5) rotate(-90)" font-size="8.6" fill="#262626" stroke="#262626" stroke-width="0.12" text-anchor="middle" >9300</text>
<text x="0" y="0" transform="translate(1082.4,376.5) rotate(-90)" font-size="8.6" fill="#262626" stroke="#262626" stroke-width="0.12" text-anchor="middle" >150</text>
<line x1="1163.3" y1="201.8" x2="1163.3" y2="418" stroke="#666" stroke-width="0.8" />
<line x1="1159.7" y1="200" x2="1166.9" y2="207.2" stroke="#111" stroke-width="1.1" />
<line x1="1159.7" y1="244.2" x2="1166.9" y2="251.4" stroke="#111" stroke-width="1.1" />
<line x1="1159.7" y1="338.1" x2="1166.9" y2="345.3" stroke="#111" stroke-width="1.1" />
<line x1="1159.7" y1="362" x2="1166.9" y2="369.2" stroke="#111" stroke-width="1.1" />
<line x1="1159.7" y1="385.9" x2="1166.9" y2="393.1" stroke="#111" stroke-width="1.1" />
<line x1="1159.7" y1="409.8" x2="1166.9" y2="417" stroke="#111" stroke-width="1.1" />
<line x1="1152" y1="203.6" x2="1170" y2="203.6" stroke="#999" stroke-width="0.9" />
<line x1="1152" y1="247.8" x2="1170" y2="247.8" stroke="#999" stroke-width="0.9" />
<line x1="1152" y1="341.7" x2="1170" y2="341.7" stroke="#999" stroke-width="0.9" />
<line x1="1152" y1="365.6" x2="1170" y2="365.6" stroke="#999" stroke-width="0.9" />
<line x1="1152" y1="389.5" x2="1170" y2="389.5" stroke="#999" stroke-width="0.9" />
<line x1="1152" y1="413.4" x2="1170" y2="413.4" stroke="#999" stroke-width="0.9" />
<text x="0" y="0" transform="translate(1161,225.5) rotate(-90)" font-size="8.6" fill="#262626" stroke="#262626" stroke-width="0.12" text-anchor="middle" >1850</text>
<text x="0" y="0" transform="translate(1161,295) rotate(-90)" font-size="8.6" fill="#262626" stroke="#262626" stroke-width="0.12" text-anchor="middle" >4000</text>
<text x="0" y="0" transform="translate(1161,353.5) rotate(-90)" font-size="8.6" fill="#262626" stroke="#262626" stroke-width="0.12" text-anchor="middle" >1000</text>
<text x="0" y="0" transform="translate(1161,377.5) rotate(-90)" font-size="8.6" fill="#262626" stroke="#262626" stroke-width="0.12" text-anchor="middle" >1000</text>
<text x="0" y="0" transform="translate(1161,401.5) rotate(-90)" font-size="8.6" fill="#262626" stroke="#262626" stroke-width="0.12" text-anchor="middle" >1000</text>
<line x1="1180.5" y1="160" x2="1180.5" y2="400" stroke="#333" stroke-width="0.8" />
<line x1="1176.9" y1="163.8" x2="1184.1" y2="171" stroke="#111" stroke-width="1.1" />
<line x1="1176.9" y1="206.4" x2="1184.1" y2="213.6" stroke="#111" stroke-width="1.1" />
<line x1="1176.9" y1="238.4" x2="1184.1" y2="245.6" stroke="#111" stroke-width="1.1" />
<line x1="1176.9" y1="390.6" x2="1184.1" y2="397.8" stroke="#111" stroke-width="1.1" />
<line x1="1166" y1="210" x2="1185" y2="210" stroke="#999" stroke-width="0.9" />
<line x1="1166" y1="242" x2="1185" y2="242" stroke="#999" stroke-width="0.9" />
<line x1="1166" y1="394.2" x2="1185" y2="394.2" stroke="#999" stroke-width="0.9" />
<line x1="1117" y1="167.5" x2="1185" y2="167.5" stroke="#333" stroke-width="0.8" />
<text x="0" y="0" transform="translate(1178,188) rotate(-90)" font-size="8.6" fill="#262626" stroke="#262626" stroke-width="0.12" text-anchor="middle" >1800</text>
<text x="0" y="0" transform="translate(1178,226) rotate(-90)" font-size="8.6" fill="#262626" stroke="#262626" stroke-width="0.12" text-anchor="middle" >1350</text>
<text x="0" y="0" transform="translate(1178,318) rotate(-90)" font-size="8.6" fill="#262626" stroke="#262626" stroke-width="0.12" text-anchor="middle" >6450</text>
<line x1="136" y1="413" x2="1119" y2="413" stroke="#666" stroke-width="0.9" />
<line x1="135.4" y1="416.6" x2="142.6" y2="409.4" stroke="#111" stroke-width="1.1" />
<line x1="139" y1="396" x2="139" y2="415.5" stroke="#555" stroke-width="0.8" />
<line x1="156.6" y1="416.6" x2="163.8" y2="409.4" stroke="#111" stroke-width="1.1" />
<line x1="160.2" y1="396" x2="160.2" y2="415.5" stroke="#555" stroke-width="0.8" />
<line x1="192" y1="416.6" x2="199.2" y2="409.4" stroke="#111" stroke-width="1.1" />
<line x1="195.6" y1="396" x2="195.6" y2="415.5" stroke="#555" stroke-width="0.8" />
<line x1="226.2" y1="416.6" x2="233.4" y2="409.4" stroke="#111" stroke-width="1.1" />
<line x1="229.8" y1="396" x2="229.8" y2="415.5" stroke="#555" stroke-width="0.8" />
<line x1="285.1" y1="416.6" x2="292.3" y2="409.4" stroke="#111" stroke-width="1.1" />
<line x1="288.7" y1="396" x2="288.7" y2="415.5" stroke="#555" stroke-width="0.8" />
<line x1="315.7" y1="416.6" x2="322.9" y2="409.4" stroke="#111" stroke-width="1.1" />
<line x1="319.3" y1="396" x2="319.3" y2="415.5" stroke="#555" stroke-width="0.8" />
<line x1="374.7" y1="416.6" x2="381.9" y2="409.4" stroke="#111" stroke-width="1.1" />
<line x1="378.3" y1="396" x2="378.3" y2="415.5" stroke="#555" stroke-width="0.8" />
<line x1="405.3" y1="416.6" x2="412.5" y2="409.4" stroke="#111" stroke-width="1.1" />
<line x1="408.9" y1="396" x2="408.9" y2="415.5" stroke="#555" stroke-width="0.8" />
<line x1="464.3" y1="416.6" x2="471.5" y2="409.4" stroke="#111" stroke-width="1.1" />
<line x1="467.9" y1="396" x2="467.9" y2="415.5" stroke="#555" stroke-width="0.8" />
<line x1="494.9" y1="416.6" x2="502.1" y2="409.4" stroke="#111" stroke-width="1.1" />
<line x1="498.5" y1="396" x2="498.5" y2="415.5" stroke="#555" stroke-width="0.8" />
<line x1="553.9" y1="416.6" x2="561.1" y2="409.4" stroke="#111" stroke-width="1.1" />
<line x1="557.5" y1="396" x2="557.5" y2="415.5" stroke="#555" stroke-width="0.8" />
<line x1="584.5" y1="416.6" x2="591.7" y2="409.4" stroke="#111" stroke-width="1.1" />
<line x1="588.1" y1="396" x2="588.1" y2="415.5" stroke="#555" stroke-width="0.8" />
<line x1="643.5" y1="416.6" x2="650.7" y2="409.4" stroke="#111" stroke-width="1.1" />
<line x1="647.1" y1="396" x2="647.1" y2="415.5" stroke="#555" stroke-width="0.8" />
<line x1="674.1" y1="416.6" x2="681.3" y2="409.4" stroke="#111" stroke-width="1.1" />
<line x1="677.7" y1="396" x2="677.7" y2="415.5" stroke="#555" stroke-width="0.8" />
<line x1="733.1" y1="416.6" x2="740.3" y2="409.4" stroke="#111" stroke-width="1.1" />
<line x1="736.7" y1="396" x2="736.7" y2="415.5" stroke="#555" stroke-width="0.8" />
<line x1="763.7" y1="416.6" x2="770.9" y2="409.4" stroke="#111" stroke-width="1.1" />
<line x1="767.3" y1="396" x2="767.3" y2="415.5" stroke="#555" stroke-width="0.8" />
<line x1="822.7" y1="416.6" x2="829.9" y2="409.4" stroke="#111" stroke-width="1.1" />
<line x1="826.3" y1="396" x2="826.3" y2="415.5" stroke="#555" stroke-width="0.8" />
<line x1="853.3" y1="416.6" x2="860.5" y2="409.4" stroke="#111" stroke-width="1.1" />
<line x1="856.9" y1="396" x2="856.9" y2="415.5" stroke="#555" stroke-width="0.8" />
<line x1="912.3" y1="416.6" x2="919.5" y2="409.4" stroke="#111" stroke-width="1.1" />
<line x1="915.9" y1="396" x2="915.9" y2="415.5" stroke="#555" stroke-width="0.8" />
<line x1="942.9" y1="416.6" x2="950.1" y2="409.4" stroke="#111" stroke-width="1.1" />
<line x1="946.5" y1="396" x2="946.5" y2="415.5" stroke="#555" stroke-width="0.8" />
<line x1="1001.9" y1="416.6" x2="1009.1" y2="409.4" stroke="#111" stroke-width="1.1" />
<line x1="1005.5" y1="396" x2="1005.5" y2="415.5" stroke="#555" stroke-width="0.8" />
<line x1="1032.5" y1="416.6" x2="1039.7" y2="409.4" stroke="#111" stroke-width="1.1" />
<line x1="1036.1" y1="396" x2="1036.1" y2="415.5" stroke="#555" stroke-width="0.8" />
<line x1="1092" y1="416.6" x2="1099.2" y2="409.4" stroke="#111" stroke-width="1.1" />
<line x1="1095.6" y1="396" x2="1095.6" y2="415.5" stroke="#555" stroke-width="0.8" />
<line x1="1111.2" y1="416.6" x2="1118.4" y2="409.4" stroke="#111" stroke-width="1.1" />
<line x1="1114.8" y1="396" x2="1114.8" y2="415.5" stroke="#555" stroke-width="0.8" />
<text x="151" y="410.6" font-size="8.6" fill="#262626" stroke="#262626" stroke-width="0.12" text-anchor="middle" >900</text>
<text x="177.9" y="410.6" font-size="8.6" fill="#262626" stroke="#262626" stroke-width="0.12" text-anchor="middle" >1500</text>
<text x="209.3" y="410.6" font-size="8.6" fill="#262626" stroke="#262626" stroke-width="0.12" text-anchor="middle" >1450</text>
<text x="259.25" y="410.6" font-size="8.6" fill="#262626" stroke="#262626" stroke-width="0.12" text-anchor="middle" >2500</text>
<text x="304" y="410.6" font-size="8.6" fill="#262626" stroke="#262626" stroke-width="0.12" text-anchor="middle" >1300</text>
<text x="348.8" y="410.6" font-size="8.6" fill="#262626" stroke="#262626" stroke-width="0.12" text-anchor="middle" >2500</text>
<text x="393.6" y="410.6" font-size="8.6" fill="#262626" stroke="#262626" stroke-width="0.12" text-anchor="middle" >1300</text>
<text x="438.4" y="410.6" font-size="8.6" fill="#262626" stroke="#262626" stroke-width="0.12" text-anchor="middle" >2500</text>
<text x="483.2" y="410.6" font-size="8.6" fill="#262626" stroke="#262626" stroke-width="0.12" text-anchor="middle" >1300</text>
<text x="528" y="410.6" font-size="8.6" fill="#262626" stroke="#262626" stroke-width="0.12" text-anchor="middle" >2500</text>
<text x="572.8" y="410.6" font-size="8.6" fill="#262626" stroke="#262626" stroke-width="0.12" text-anchor="middle" >1300</text>
<text x="617.6" y="410.6" font-size="8.6" fill="#262626" stroke="#262626" stroke-width="0.12" text-anchor="middle" >2500</text>
<text x="662.4" y="410.6" font-size="8.6" fill="#262626" stroke="#262626" stroke-width="0.12" text-anchor="middle" >1300</text>
<text x="707.2" y="410.6" font-size="8.6" fill="#262626" stroke="#262626" stroke-width="0.12" text-anchor="middle" >2500</text>
<text x="752" y="410.6" font-size="8.6" fill="#262626" stroke="#262626" stroke-width="0.12" text-anchor="middle" >1300</text>
<text x="796.8" y="410.6" font-size="8.6" fill="#262626" stroke="#262626" stroke-width="0.12" text-anchor="middle" >2500</text>
<text x="841.6" y="410.6" font-size="8.6" fill="#262626" stroke="#262626" stroke-width="0.12" text-anchor="middle" >1300</text>
<text x="886.4" y="410.6" font-size="8.6" fill="#262626" stroke="#262626" stroke-width="0.12" text-anchor="middle" >2500</text>
<text x="931.2" y="410.6" font-size="8.6" fill="#262626" stroke="#262626" stroke-width="0.12" text-anchor="middle" >1300</text>
<text x="976" y="410.6" font-size="8.6" fill="#262626" stroke="#262626" stroke-width="0.12" text-anchor="middle" >2500</text>
<text x="1020.8" y="410.6" font-size="8.6" fill="#262626" stroke="#262626" stroke-width="0.12" text-anchor="middle" >1300</text>
<text x="1065.85" y="410.6" font-size="8.6" fill="#262626" stroke="#262626" stroke-width="0.12" text-anchor="middle" >2500</text>
<text x="1105.2" y="410.6" font-size="8.6" fill="#262626" stroke="#262626" stroke-width="0.12" text-anchor="middle" >800</text>
<line x1="136" y1="434.4" x2="1116" y2="434.4" stroke="#666" stroke-width="0.9" />
<line x1="138.8" y1="438" x2="146" y2="430.8" stroke="#111" stroke-width="1.1" />
<line x1="211" y1="438" x2="218.2" y2="430.8" stroke="#111" stroke-width="1.1" />
<line x1="300.4" y1="438" x2="307.6" y2="430.8" stroke="#111" stroke-width="1.1" />
<line x1="390" y1="438" x2="397.2" y2="430.8" stroke="#111" stroke-width="1.1" />
<line x1="479.6" y1="438" x2="486.8" y2="430.8" stroke="#111" stroke-width="1.1" />
<line x1="569.2" y1="438" x2="576.4" y2="430.8" stroke="#111" stroke-width="1.1" />
<line x1="658.8" y1="438" x2="666" y2="430.8" stroke="#111" stroke-width="1.1" />
<line x1="748.4" y1="438" x2="755.6" y2="430.8" stroke="#111" stroke-width="1.1" />
<line x1="838" y1="438" x2="845.2" y2="430.8" stroke="#111" stroke-width="1.1" />
<line x1="927.6" y1="438" x2="934.8" y2="430.8" stroke="#111" stroke-width="1.1" />
<line x1="1017.2" y1="438" x2="1024.4" y2="430.8" stroke="#111" stroke-width="1.1" />
<line x1="1106.8" y1="438" x2="1114" y2="430.8" stroke="#111" stroke-width="1.1" />
<text x="178.5" y="432" font-size="8.6" fill="#262626" stroke="#262626" stroke-width="0.12" text-anchor="middle" >3050</text>
<text x="259.3" y="432" font-size="8.6" fill="#262626" stroke="#262626" stroke-width="0.12" text-anchor="middle" >3800</text>
<text x="348.8" y="432" font-size="8.6" fill="#262626" stroke="#262626" stroke-width="0.12" text-anchor="middle" >3800</text>
<text x="438.4" y="432" font-size="8.6" fill="#262626" stroke="#262626" stroke-width="0.12" text-anchor="middle" >3800</text>
<text x="528" y="432" font-size="8.6" fill="#262626" stroke="#262626" stroke-width="0.12" text-anchor="middle" >3800</text>
<text x="617.6" y="432" font-size="8.6" fill="#262626" stroke="#262626" stroke-width="0.12" text-anchor="middle" >3800</text>
<text x="707.2" y="432" font-size="8.6" fill="#262626" stroke="#262626" stroke-width="0.12" text-anchor="middle" >3800</text>
<text x="796.8" y="432" font-size="8.6" fill="#262626" stroke="#262626" stroke-width="0.12" text-anchor="middle" >3800</text>
<text x="886.4" y="432" font-size="8.6" fill="#262626" stroke="#262626" stroke-width="0.12" text-anchor="middle" >3800</text>
<text x="976" y="432" font-size="8.6" fill="#262626" stroke="#262626" stroke-width="0.12" text-anchor="middle" >3800</text>
<text x="1065.6" y="432" font-size="8.6" fill="#262626" stroke="#262626" stroke-width="0.12" text-anchor="middle" >3800</text>
<line x1="136" y1="453.4" x2="1116" y2="453.4" stroke="#555" stroke-width="0.9" />
<line x1="138.8" y1="457" x2="146" y2="449.8" stroke="#111" stroke-width="1.1" />
<line x1="1106.8" y1="457" x2="1114" y2="449.8" stroke="#111" stroke-width="1.1" />
<text x="617" y="451" font-size="8.6" fill="#262626" stroke="#262626" stroke-width="0.12" text-anchor="middle" >41050</text>
<circle cx="142.4" cy="473.5" r="10.9" stroke="#222" stroke-width="1.1" fill="#fff"/>
<text x="142.4" y="478.6" font-size="14.6" fill="#1a1a1a" stroke="#1a1a1a" stroke-width="0.3" text-anchor="middle" >1</text>
<circle cx="214.6" cy="473.5" r="10.9" stroke="#222" stroke-width="1.1" fill="#fff"/>
<text x="214.6" y="478.6" font-size="14.6" fill="#1a1a1a" stroke="#1a1a1a" stroke-width="0.3" text-anchor="middle" >2</text>
<circle cx="304" cy="473.5" r="10.9" stroke="#222" stroke-width="1.1" fill="#fff"/>
<text x="304" y="478.6" font-size="14.6" fill="#1a1a1a" stroke="#1a1a1a" stroke-width="0.3" text-anchor="middle" >3</text>
<circle cx="393.6" cy="473.5" r="10.9" stroke="#222" stroke-width="1.1" fill="#fff"/>
<text x="393.6" y="478.6" font-size="14.6" fill="#1a1a1a" stroke="#1a1a1a" stroke-width="0.3" text-anchor="middle" >4</text>
<circle cx="483.2" cy="473.5" r="10.9" stroke="#222" stroke-width="1.1" fill="#fff"/>
<text x="483.2" y="478.6" font-size="14.6" fill="#1a1a1a" stroke="#1a1a1a" stroke-width="0.3" text-anchor="middle" >5</text>
<circle cx="572.8" cy="473.5" r="10.9" stroke="#222" stroke-width="1.1" fill="#fff"/>
<text x="572.8" y="478.6" font-size="14.6" fill="#1a1a1a" stroke="#1a1a1a" stroke-width="0.3" text-anchor="middle" >6</text>
<circle cx="662.4" cy="473.5" r="10.9" stroke="#222" stroke-width="1.1" fill="#fff"/>
<text x="662.4" y="478.6" font-size="14.6" fill="#1a1a1a" stroke="#1a1a1a" stroke-width="0.3" text-anchor="middle" >7</text>
<circle cx="752" cy="473.5" r="10.9" stroke="#222" stroke-width="1.1" fill="#fff"/>
<text x="752" y="478.6" font-size="14.6" fill="#1a1a1a" stroke="#1a1a1a" stroke-width="0.3" text-anchor="middle" >8</text>
<circle cx="841.6" cy="473.5" r="10.9" stroke="#222" stroke-width="1.1" fill="#fff"/>
<text x="841.6" y="478.6" font-size="14.6" fill="#1a1a1a" stroke="#1a1a1a" stroke-width="0.3" text-anchor="middle" >9</text>
<circle cx="931.2" cy="473.5" r="10.9" stroke="#222" stroke-width="1.1" fill="#fff"/>
<text x="931.2" y="478.6" font-size="14.6" fill="#1a1a1a" stroke="#1a1a1a" stroke-width="0.3" text-anchor="middle" >10</text>
<circle cx="1020.8" cy="473.5" r="10.9" stroke="#222" stroke-width="1.1" fill="#fff"/>
<text x="1020.8" y="478.6" font-size="14.6" fill="#1a1a1a" stroke="#1a1a1a" stroke-width="0.3" text-anchor="middle" >11</text>
<circle cx="1110.4" cy="473.5" r="10.9" stroke="#222" stroke-width="1.1" fill="#fff"/>
<text x="1110.4" y="478.6" font-size="14.6" fill="#1a1a1a" stroke="#1a1a1a" stroke-width="0.3" text-anchor="middle" >12</text>
<line x1="656.3" y1="721.5" x2="855.5" y2="721.5" stroke="#2a2a2a" stroke-width="1.3" />
<line x1="656.3" y1="736.8" x2="855.5" y2="736.8" stroke="#777" stroke-width="1.1" />
<line x1="656.3" y1="752.5" x2="855.5" y2="752.5" stroke="#777" stroke-width="1.1" />
<line x1="656.3" y1="767.6" x2="855.5" y2="767.6" stroke="#777" stroke-width="1.1" />
<line x1="656.3" y1="783" x2="855.5" y2="783" stroke="#777" stroke-width="1.1" />
<line x1="656.3" y1="799.8" x2="855.5" y2="799.8" stroke="#2a2a2a" stroke-width="1.3" />
<line x1="656.3" y1="813.4" x2="855.5" y2="813.4" stroke="#777" stroke-width="1.1" />
<line x1="656.3" y1="829" x2="855.5" y2="829" stroke="#777" stroke-width="1.1" />
<line x1="656.3" y1="844" x2="855.5" y2="844" stroke="#2a2a2a" stroke-width="1.3" />
<line x1="656.3" y1="859.3" x2="855.5" y2="859.3" stroke="#777" stroke-width="1.1" />
<line x1="656.3" y1="874.5" x2="855.5" y2="874.5" stroke="#777" stroke-width="1.1" />
<line x1="656.3" y1="890" x2="855.5" y2="890" stroke="#2a2a2a" stroke-width="1.3" />
<line x1="656.3" y1="721.5" x2="656.3" y2="890" stroke="#2a2a2a" stroke-width="1.4" />
<line x1="687" y1="721.5" x2="687" y2="799.8" stroke="#777" stroke-width="1.1" />
<line x1="717.5" y1="721.5" x2="717.5" y2="890" stroke="#2a2a2a" stroke-width="1.3" />
<line x1="748.5" y1="721.5" x2="748.5" y2="799.8" stroke="#777" stroke-width="1.1" />
<line x1="779" y1="721.5" x2="779" y2="890" stroke="#2a2a2a" stroke-width="1.3" />
<line x1="825.5" y1="721.5" x2="825.5" y2="890" stroke="#2a2a2a" stroke-width="1.3" />
<line x1="855.5" y1="721.5" x2="855.5" y2="890" stroke="#2a2a2a" stroke-width="1.4" />
<line x1="855.5" y1="721.5" x2="1201" y2="721.5" stroke="#2a2a2a" stroke-width="1.4" />
<line x1="855.5" y1="752.3" x2="1201" y2="752.3" stroke="#2a2a2a" stroke-width="1.3" />
<line x1="855.5" y1="799.8" x2="1201" y2="799.8" stroke="#2a2a2a" stroke-width="1.3" />
<line x1="855.5" y1="844.2" x2="1201" y2="844.2" stroke="#2a2a2a" stroke-width="1.3" />
<line x1="1070.2" y1="799.8" x2="1070.2" y2="890" stroke="#2a2a2a" stroke-width="1.3" />
<line x1="1116" y1="799.8" x2="1116" y2="844.2" stroke="#2a2a2a" stroke-width="1.3" />
<line x1="1162.7" y1="799.8" x2="1162.7" y2="844.2" stroke="#2a2a2a" stroke-width="1.3" />
<line x1="1070.2" y1="815.6" x2="1201" y2="815.6" stroke="#2a2a2a" stroke-width="1.1" />
<text x="659.6" y="795.3" font-size="13.4" fill="#1a1a1a" stroke="#1a1a1a" stroke-width="0.2" textLength="26.4" lengthAdjust="spacingAndGlyphs">Изм.</text>
<text x="688.3" y="795.3" font-size="13.4" fill="#1a1a1a" stroke="#1a1a1a" stroke-width="0.2" textLength="25.2" lengthAdjust="spacingAndGlyphs">Кол.</text>
<text x="718.2" y="795.3" font-size="13.4" fill="#1a1a1a" stroke="#1a1a1a" stroke-width="0.2" textLength="28" lengthAdjust="spacingAndGlyphs">Лист</text>
<text x="749.2" y="795.3" font-size="9.8" fill="#1a1a1a" stroke="#1a1a1a" stroke-width="0.2" textLength="28.9" lengthAdjust="spacingAndGlyphs">№док.</text>
<text x="782.3" y="795.3" font-size="13.4" fill="#1a1a1a" stroke="#1a1a1a" stroke-width="0.2" textLength="33.2" lengthAdjust="spacingAndGlyphs">Подп.</text>
<text x="826.2" y="795.3" font-size="13.4" fill="#1a1a1a" stroke="#1a1a1a" stroke-width="0.2" textLength="28" lengthAdjust="spacingAndGlyphs">Дата</text>
<text x="659.1" y="826" font-size="11.2" fill="#222" stroke="#222" stroke-width="0.2" textLength="46.9" lengthAdjust="spacingAndGlyphs">Разработал</text>
<text x="721.7" y="825.6" font-size="10.8" fill="#222" stroke="#222" stroke-width="0.2" textLength="45.5" lengthAdjust="spacingAndGlyphs">Шабалина</text>
<text x="829.5" y="827.1" font-size="10.6" fill="#222" stroke="#222" stroke-width="0.2" textLength="20.5" lengthAdjust="spacingAndGlyphs">07.21</text>
<text x="659.1" y="855.8" font-size="11" fill="#222" stroke="#222" stroke-width="0.2" textLength="35" lengthAdjust="spacingAndGlyphs">Н. контр.</text>
<text x="721.7" y="855.8" font-size="10.8" fill="#222" stroke="#222" stroke-width="0.2" textLength="51.8" lengthAdjust="spacingAndGlyphs">Двоеглазов</text>
<text x="829.5" y="857.5" font-size="10.6" fill="#222" stroke="#222" stroke-width="0.2" textLength="20.5" lengthAdjust="spacingAndGlyphs">07.21</text>
<text x="659.1" y="871.5" font-size="11" fill="#222" stroke="#222" stroke-width="0.2" textLength="17.1" lengthAdjust="spacingAndGlyphs">ГИП</text>
<text x="724.5" y="871.5" font-size="10.8" fill="#222" stroke="#222" stroke-width="0.2" textLength="45.7" lengthAdjust="spacingAndGlyphs">Коротаев</text>
<text x="829.5" y="872.9" font-size="10.6" fill="#222" stroke="#222" stroke-width="0.2" textLength="20.5" lengthAdjust="spacingAndGlyphs">07.21</text>
<text x="1044" y="742" font-size="12.6" fill="#1a1a1a" stroke="#1a1a1a" stroke-width="0.15" text-anchor="middle" >11-21П-АР</text>
<text x="887.3" y="763.4" font-size="11.95" fill="#1a1a1a" stroke="#1a1a1a" stroke-width="0.15" text-anchor="start" >Реконструкция здания склада, расположенное по адресу:</text>
<text x="880.6" y="777.6" font-size="11.95" fill="#1a1a1a" stroke="#1a1a1a" stroke-width="0.15" text-anchor="start" >г. Киров, Ленинский район, ул. Маклина, д. 77 (кадастровый</text>
<text x="924.4" y="791.6" font-size="11.95" fill="#1a1a1a" stroke="#1a1a1a" stroke-width="0.15" text-anchor="start" >номер земельного участка 43:40:000314:457</text>
<text x="925.8" y="825" font-size="10.7" fill="#1a1a1a" stroke="#1a1a1a" stroke-width="0.15" text-anchor="start" font-style="italic">ООО "ИРИДА-43"</text>
<text x="1072" y="813.5" font-size="13" fill="#1a1a1a" stroke="#1a1a1a" stroke-width="0.2" textLength="43.3" lengthAdjust="spacingAndGlyphs">Стадия</text>
<text x="1124" y="813.5" font-size="13" fill="#1a1a1a" stroke="#1a1a1a" stroke-width="0.2" textLength="27.7" lengthAdjust="spacingAndGlyphs">Лист</text>
<text x="1168" y="813.5" font-size="13" fill="#1a1a1a" stroke="#1a1a1a" stroke-width="0.2" textLength="44" lengthAdjust="spacingAndGlyphs">Листов</text>
<text x="1084.7" y="834.2" font-size="12.9" fill="#1a1a1a" stroke="#1a1a1a" stroke-width="0.15" text-anchor="start" >ЭП</text>
<text x="1135.7" y="834.2" font-size="12.6" fill="#1a1a1a" stroke="#1a1a1a" stroke-width="0.15" text-anchor="start" >15</text>
<text x="1182.5" y="834.2" font-size="12.6" fill="#1a1a1a" stroke="#1a1a1a" stroke-width="0.15" text-anchor="start" >18</text>
<text x="888.8" y="869" font-size="10.7" fill="#1a1a1a" stroke="#1a1a1a" stroke-width="0.15" text-anchor="start" >Монтажный план 2-го этажа</text>
<text x="1106" y="870" font-size="12.8" fill="#1a1a1a" stroke="#1a1a1a" stroke-width="0.15" text-anchor="start" >ООО "Альянс"</text>
<path d="M783.5,812.6 Q786,812.5 787.5,815 L788,818 M791.5,809.7 Q790,818 788.7,826.3 Q790,822 791,818 Q793,816 793.4,818 L793.6,826 Q794.5,821 797,821 Q799.5,822 798,826 Q795.5,827 796.5,823 Q799,820 800.5,826 Q804,818 808,813 Q811,810 810,816 Q806,828 802,838 Q800,843 801.5,840 Q803,832 805,826 Q809,816 815,812.5 Q818,812 815.5,818 Q811,830 808,839 Q806.5,843 807.5,838 Q809,830 811.4,824.8 L817.5,822 M817.5,826.3 L827.5,822" stroke="#111" stroke-width="1.1" fill="none" stroke-linecap="round" stroke-linejoin="round"/>
<path d="M787.3,864 Q795,853 802.4,846.1 Q801,850 800.5,856.5 Q802,850 806,851 Q807,855 805,857 Q810,852 813,853 Q812,857 810,858 Q815,855 819.4,854.6 M808,855.6 Q820,849 832.6,847 M797,862 Q788,868 786.5,874 Q787,879 794,876 Q802,870 803,864 Q800,860 794,866 Q790,872 793,877 Q799,878 803.4,873 Q797,870 801,866 Q806,862 804,870 Q802,876 806,871 L821.3,858.4 M806,874 L819,860 M809,873 L822,861 M808,870 L802.4,883.4" stroke="#111" stroke-width="1.1" fill="none" stroke-linecap="round" stroke-linejoin="round"/>
</svg>
</body></html>
